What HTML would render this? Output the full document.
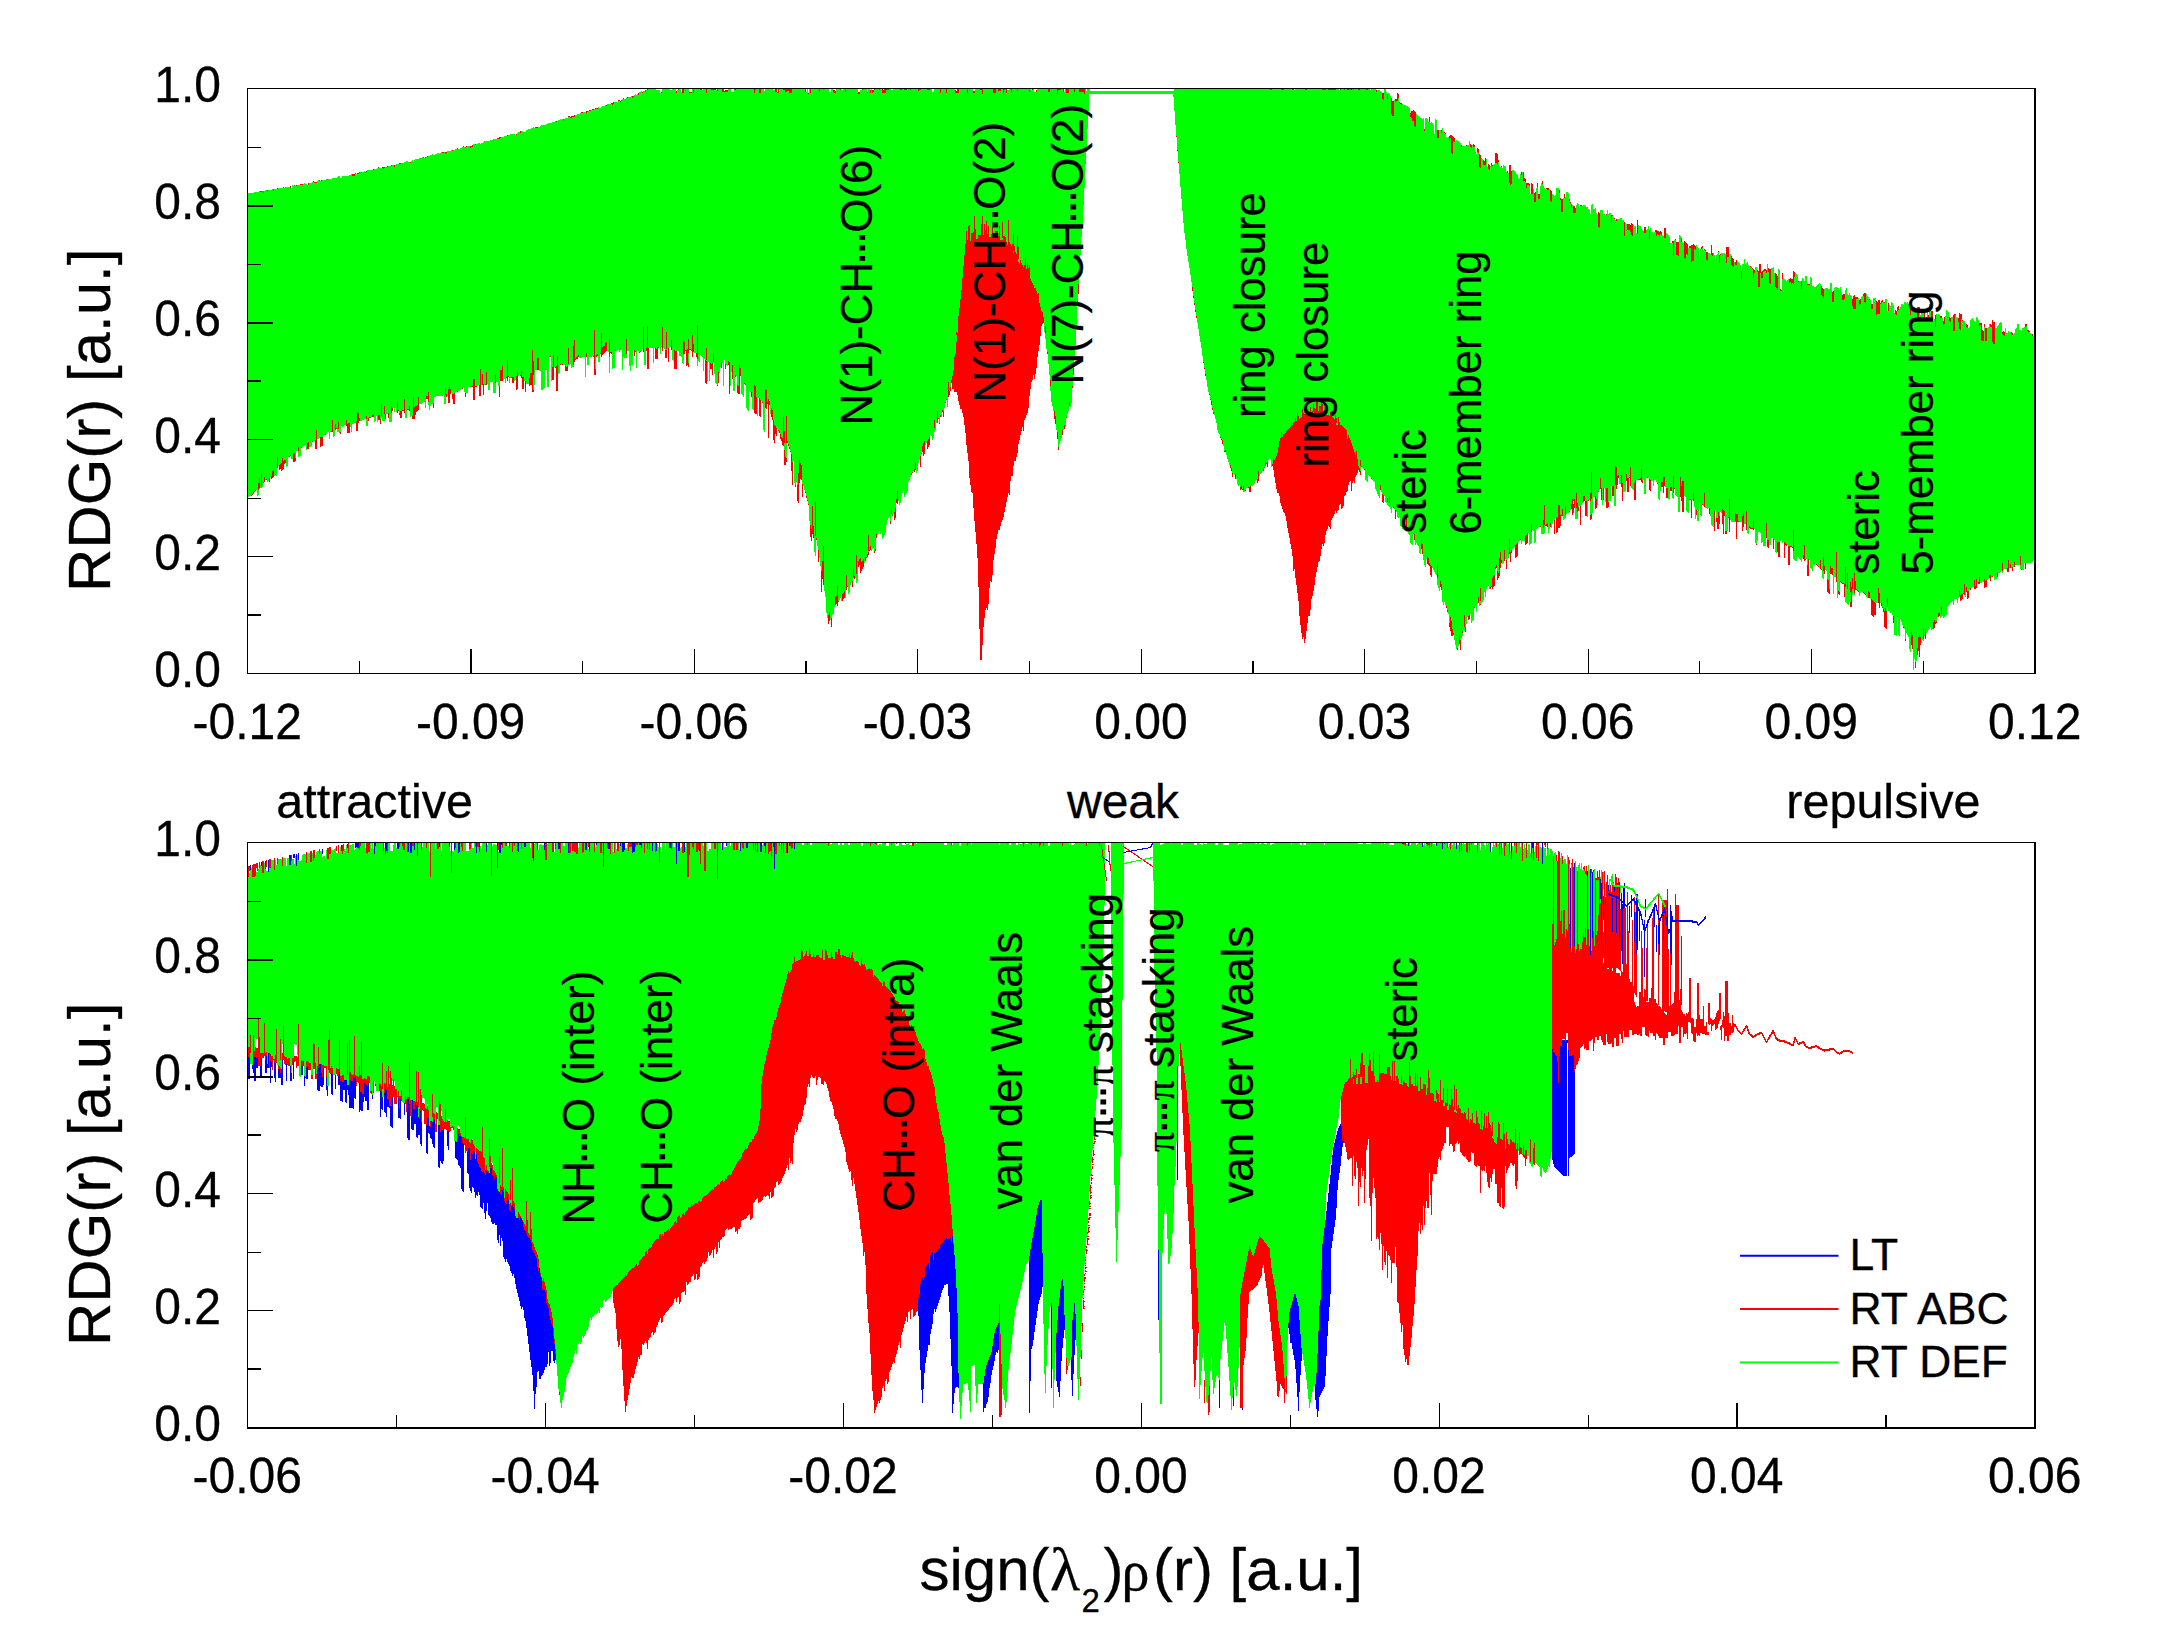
<!DOCTYPE html>
<html lang="en"><head><meta charset="utf-8"><title>RDG vs sign(lambda2)rho</title>
<style>
html,body{margin:0;padding:0;background:#fff}
svg{display:block}
text{font-family:"Liberation Sans", Arial, sans-serif;fill:#000;stroke:#000;stroke-width:.3px}
</style></head><body>
<svg width="2165" height="1650" viewBox="0 0 2165 1650">
<rect width="2165" height="1650" fill="#fff"/>
<g transform="translate(.5 0)" fill="none" stroke-width="1" shape-rendering="crispEdges">
<path stroke="#0000ff" d="M248 1057v22M249 1058v21M250 865v5M252 1065v4M253 1057v16M254 1057v24M255 1057v24M256 1058v10M257 1058v10M260 1066v10M261 862v4M261 1058v19M265 861v8M265 1060v13M266 1056v17M267 1064v4M268 860v12M268 1053v15M270 1061v22M271 1062v5M274 1062v16M275 1063v19M278 1069v9M279 1069v9M280 1073v5M281 1069v16M282 1060v25M286 1064v17M289 855v10M290 855v10M290 1066v15M291 1073v8M293 854v4M293 1061v18M294 854v4M296 854v12M298 853v7M301 1066v9M302 1066v9M304 1076v10M305 1077v1M306 1067v12M307 1067v12M317 1070v20M318 1068v23M319 1064v27M320 1064v22M321 1073v14M322 849v5M322 1077v10M323 1068v17M326 1077v13M327 1086v10M331 1074v20M332 1074v21M335 1075v14M338 1076v9M339 1072v13M340 1081v20M341 845v6M341 1081v20M342 1082v20M343 1082v8M344 1080v10M345 1080v22M346 1080v23M347 844v4M347 1085v5M348 1085v10M349 1080v28M350 1080v28M351 1081v27M352 1081v27M353 1076v33M354 1078v20M355 843v5M355 1077v22M356 843v4M357 843v5M358 843v5M359 1083v29M360 1092v18M361 1092v19M362 1094v17M363 1094v8M364 1083v14M365 1084v17M366 1085v16M367 1086v24M368 1083v27M372 1095v4M374 843v11M375 843v3M380 1091v26M381 1092v17M382 1097v13M384 1093v19M385 843v11M385 1088v25M386 843v8M386 1090v27M387 1099v8M388 1100v7M389 1106v2M390 1106v20M391 1106v21M392 1097v31M397 843v6M398 843v6M398 1098v20M399 1109v9M400 1099v20M404 1103v12M407 1099v39M408 843v9M408 1099v41M409 1104v36M410 843v10M411 843v10M411 1117v12M412 1100v30M413 1109v21M414 843v7M414 1109v15M415 1103v21M416 1106v31M417 843v13M417 1104v34M418 1117v18M419 1119v16M420 1111v33M421 1122v24M426 1125v28M427 1117v37M428 1118v15M429 1126v8M430 1127v11M431 1121v18M432 1122v22M433 1120v27M434 1120v28M438 1125v42M439 843v4M439 1125v43M440 1132v29M441 1130v33M442 1130v34M443 1128v33M447 1131v15M448 1131v19M449 843v4M454 843v7M455 1141v17M456 1142v17M457 1139v21M458 843v10M458 1134v31M459 843v9M459 1136v30M460 1136v32M461 1137v52M462 1143v48M463 1144v48M467 1152v21M468 1148v26M469 1149v39M470 1160v31M471 1153v40M472 1154v33M473 1151v37M474 1152v40M475 1159v39M476 843v10M476 1154v41M477 1162v34M478 1164v28M479 843v9M479 1167v28M480 1168v39M481 1171v37M482 1172v37M483 1172v31M484 1173v40M485 1175v44M486 843v9M486 1171v40M487 1172v31M488 1173v42M489 1173v43M490 1168v50M491 1168v54M492 1175v49M493 1176v48M494 1179v44M495 1175v50M496 1177v48M497 843v25M497 1189v51M498 1191v52M499 843v10M499 1192v43M500 843v10M500 1194v52M501 843v2M501 1195v43M502 1190v51M503 1192v65M504 1201v58M505 1203v59M506 1204v55M507 1197v65M508 1200v64M509 1210v56M510 1211v60M511 1206v67M512 1205v71M513 1207v67M514 1209v69M515 1216v68M516 1218v71M517 1218v75M518 843v9M518 1218v79M519 1220v81M520 1217v89M521 1219v90M522 1221v86M523 1227v83M524 843v4M524 1230v88M525 843v4M525 1231v90M526 1233v95M527 1236v100M528 1238v106M529 1237v115M530 1240v120M531 1243v124M532 1250v125M533 843v18M533 1252v139M534 1253v156M535 1256v138M536 1258v129M537 843v7M537 1267v105M538 1271v100M539 1268v111M540 1276v103M541 1278v98M542 1290v85M543 1286v87M544 843v7M544 1290v80M545 1292v75M546 1303v64M547 1305v59M548 1308v44M549 1316v50M550 1320v43M551 1324v27M552 1326v25M553 1336v25M554 1344v19M555 1354v6M558 843v6M559 843v6M568 843v10M585 843v7M586 843v7M589 843v9M596 843v2M603 843v24M608 843v6M609 843v6M620 843v3M622 843v9M623 843v9M624 843v7M632 843v10M633 843v9M634 843v9M639 843v2M640 843v2M641 843v5M652 843v8M656 843v8M669 843v5M670 843v5M676 843v21M678 843v8M679 843v8M684 843v9M699 843v8M722 843v7M726 843v3M740 843v8M746 843v5M747 843v5M757 843v9M760 843v9M761 843v9M764 843v3M765 843v10M773 843v4M774 843v26M787 843v10M789 843v3M794 843v6M918 1298v18M919 1295v55M920 1284v86M921 1281v109M922 1278v125M923 1280v109M924 1277v96M925 1268v95M926 1266v91M927 1264v87M928 1263v82M929 1269v76M930 1255v79M931 1253v76M932 1252v72M933 1260v54M934 1253v56M935 1253v59M936 1252v57M937 1250v56M938 1249v54M939 1248v52M940 1245v52M941 1244v49M942 1243v47M943 1242v46M944 1240v45M945 1239v46M946 1238v46M947 1239v45M948 1239v57M949 1239v73M950 1238v101M951 1242v124M952 1236v177M953 1245v159M954 1255v138M955 1269v119M956 1288v99M957 1313v74M958 1373v15M983 1383v29M984 1376v32M985 1369v39M986 1365v39M987 1362v40M988 1360v37M989 1357v31M990 1355v28M991 1352v23M992 1346v24M993 1339v27M994 1333v28M995 1329v26M996 1327v25M997 1325v28M998 1323v27M1029 1256v157M1030 1249v132M1031 1243v106M1032 1238v108M1033 1232v108M1034 1227v105M1035 1221v104M1036 1215v103M1037 1208v103M1038 1205v99M1039 1202v98M1040 1200v97M1041 1200v94M1042 1253v34M1051 1303v85M1056 1333v48M1057 1320v67M1058 1306v86M1059 1298v99M1060 1289v92M1061 1281v80M1062 1279v69M1063 1286v52M1064 1315v15M1071 1357v23M1072 1320v76M1073 1312v62M1074 1303v52M1075 1314v26M1101 856v1M1102 857v1M1103 857v2M1104 858v1M1105 859v1M1106 859v2M1107 860v1M1108 861v1M1123 852v1M1124 852v1M1125 852v1M1126 851v1M1127 851v1M1128 851v1M1129 851v1M1130 851v1M1131 850v2M1132 850v1M1133 850v1M1134 850v1M1135 850v1M1136 850v1M1137 849v1M1138 849v1M1139 849v1M1140 849v1M1141 849v1M1142 848v2M1143 848v1M1144 848v1M1145 848v1M1146 848v1M1147 848v1M1148 847v1M1149 847v1M1150 846v2M1151 844v3M1152 843v2M1158 1250v70M1177 1066v114M1219 1380v28M1233 1387v19M1242 1408v2M1288 1323v5M1289 1315v19M1290 1308v35M1291 1305v38M1292 1301v48M1293 1297v58M1294 1294v66M1295 1294v75M1296 1298v85M1297 1302v95M1298 1306v105M1299 1320v72M1300 1334v41M1301 1348v13M1315 1384v16M1316 1373v36M1317 1354v63M1318 1331v80M1319 1306v91M1320 1300v95M1321 1270v123M1322 1244v147M1323 1236v153M1324 1228v159M1325 1220v156M1326 1211v145M1327 1202v134M1328 1193v128M1329 1184v123M1330 1175v119M1331 1165v83M1332 1155v86M1333 1147v87M1334 1143v84M1335 1139v81M1336 1135v73M1337 1131v59M1338 1128v52M1339 1126v47M1340 1124v42M1341 1126v30M1342 1141v6M1343 1137v6M1402 843v1M1403 843v1M1408 843v3M1422 843v4M1426 843v1M1436 843v3M1442 843v6M1456 843v6M1490 843v9M1511 843v16M1532 843v5M1533 843v17M1542 843v21M1552 1049v111M1553 1052v112M1554 1053v114M1555 1055v113M1556 1056v113M1557 1062v108M1558 1083v88M1559 1056v116M1560 1046v127M1561 1046v128M1562 1040v135M1563 1040v136M1564 1040v136M1565 1042v134M1566 1040v136M1567 1040v3M1568 1050v126M1569 1056v102M1570 868v80M1570 1056v101M1571 1056v101M1572 1055v101M1573 1055v100M1574 863v83M1574 1072v82M1587 871v63M1590 869v86M1592 872v66M1600 879v20M1601 883v58M1603 896v24M1605 897v56M1608 885v6M1608 893v2M1609 893v3M1610 894v2M1611 894v2M1612 895v2M1612 898v34M1613 895v2M1614 887v5M1614 895v2M1615 896v2M1616 896v37M1617 883v2M1617 887v2M1617 896v3M1618 897v2M1619 882v3M1619 887v55M1620 899v2M1621 893v58M1622 901v2M1622 904v60M1623 888v21M1624 883v3M1624 888v20M1625 904v2M1626 905v2M1627 904v2M1628 903v2M1629 902v2M1629 906v27M1630 901v2M1631 895v22M1632 899v2M1633 898v3M1634 899v4M1634 912v30M1635 901v4M1636 894v1M1636 898v55M1637 894v2M1637 900v50M1638 907v4M1639 909v32M1640 911v5M1641 914v6M1642 919v6M1643 924v6M1644 920v57M1645 899v9M1645 910v7M1645 927v4M1646 924v4M1647 921v5M1648 919v4M1649 916v4M1650 914v4M1651 912v4M1652 909v4M1653 907v4M1654 904v23M1655 903v4M1656 905v6M1656 925v27M1657 910v5M1658 914v6M1658 925v19M1659 918v37M1660 917v4M1661 914v4M1662 912v4M1663 909v4M1663 915v25M1664 908v5M1665 911v8M1666 917v8M1667 902v29M1668 929v5M1669 929v4M1670 905v48M1671 911v54M1672 916v6M1673 920v2M1674 920v2M1675 920v2M1676 920v2M1677 920v2M1678 920v2M1679 920v2M1680 920v2M1681 920v2M1682 920v2M1683 920v2M1684 920v2M1685 920v2M1686 920v2M1687 920v2M1688 920v2M1689 920v2M1690 920v2M1691 920v2M1692 920v3M1693 921v2M1694 921v2M1695 921v2M1696 921v2M1697 922v3M1698 924v2M1699 923v2M1700 922v2M1701 921v2M1702 920v2M1703 919v2M1704 917v3M1705 916v3"/>
<path stroke="#ff0000" d="M248 866v11M248 1047v10M249 866v5M249 1047v11M250 1035v18M251 495v1M252 494v1M252 865v12M253 492v2M253 864v13M253 1035v22M254 491v1M254 864v13M254 1051v6M255 490v1M255 864v12M255 1047v10M256 863v5M256 1048v10M257 863v8M257 1048v10M258 483v7M258 1018v48M259 478v10M259 862v6M259 1037v29M260 191v1M260 1053v13M261 191v1M261 474v12M261 1053v5M262 861v12M262 1053v5M263 191v2M263 482v1M263 861v12M263 1053v5M264 477v5M264 1023v33M265 1053v7M266 479v1M266 860v7M266 1052v4M267 190v2M269 478v4M269 859v9M269 1053v15M270 859v9M270 1054v7M271 476v3M271 1056v6M272 471v7M272 1056v14M273 189v2M273 470v7M273 1059v1M274 858v12M274 1059v3M275 1055v8M276 1029v34M277 188v1M277 457v11M277 858v6M278 1065v4M279 465v5M279 1066v3M280 464v5M280 1039v21M280 1068v5M281 463v8M282 458v12M282 857v9M282 1053v7M283 187v1M283 461v8M283 1026v34M284 460v4M284 1056v8M285 460v3M285 1057v8M286 1057v7M287 1059v6M288 1058v8M289 456v1M289 1058v8M290 186v2M290 455v1M291 855v6M292 1058v7M293 453v9M293 1058v3M294 185v1M294 453v9M294 1056v6M295 458v3M295 1056v5M296 185v1M296 1056v12M297 1057v9M298 447v4M298 1024v42M300 184v1M301 184v1M301 447v1M301 1060v6M302 184v1M302 1061v5M303 1061v5M306 852v11M306 1061v6M307 443v6M307 1061v6M308 183v2M308 442v7M308 1062v8M309 1063v7M310 851v11M310 1063v7M311 851v11M311 1075v4M312 441v1M312 1075v4M313 181v1M313 850v11M313 1043v26M314 182v1M314 850v8M314 1044v25M315 182v1M315 440v9M315 1063v16M316 182v1M316 430v19M316 1074v5M317 1066v4M318 1047v21M319 180v1M319 849v5M320 437v10M321 180v1M321 437v9M321 1064v9M322 437v9M322 1065v12M323 1065v3M324 1066v2M325 434v1M325 1066v2M326 1066v11M327 179v1M327 848v11M328 848v11M328 1040v30M329 847v7M329 1030v43M330 847v7M330 1068v6M331 431v1M331 1066v8M332 420v12M332 1068v6M335 424v6M336 428v1M336 846v5M336 1068v6M337 1069v7M338 422v7M338 845v8M338 1069v7M339 1040v32M340 432v2M340 1076v5M341 1076v5M342 845v9M342 1075v7M343 844v7M343 1075v7M346 420v6M347 424v9M347 1043v32M348 423v10M348 843v10M349 423v10M349 1040v40M350 1072v8M351 1074v7M352 174v2M352 1075v6M353 174v2M353 1074v2M354 174v2M354 1036v42M355 173v1M355 1075v2M356 421v10M356 1076v10M357 173v1M357 412v19M357 1076v6M358 173v1M358 413v10M358 1077v6M359 172v1M359 418v3M359 843v7M359 1066v17M360 843v3M360 1075v17M361 172v1M361 1042v50M362 1079v15M363 1079v15M364 1078v5M365 172v1M365 1079v5M366 171v1M366 416v3M366 843v10M366 1079v6M367 843v11M367 1076v10M368 418v3M368 843v9M368 1076v7M369 417v1M369 843v9M369 1077v6M370 417v1M370 1091v2M371 1091v3M372 415v2M373 169v1M373 414v3M373 1081v12M375 1084v2M378 167v1M378 415v5M379 415v5M379 1083v8M380 419v5M380 1084v7M381 404v12M381 1086v6M382 167v1M382 1063v26M383 167v2M383 843v8M384 167v1M384 406v8M384 1083v10M385 414v5M385 1084v4M386 1071v19M387 166v1M387 843v10M387 1087v12M388 413v5M388 1066v34M389 1084v22M390 1071v35M391 165v1M391 406v7M391 1078v28M392 408v3M392 1085v12M393 1079v18M394 165v2M394 1086v18M395 1089v15M396 1089v15M397 402v11M397 1096v1M398 410v1M398 1091v7M399 163v1M399 413v2M399 843v4M399 1096v13M400 163v1M400 411v7M400 1096v3M401 411v7M401 1090v11M402 410v1M402 843v3M403 410v1M403 843v7M404 399v14M404 843v7M405 1096v8M406 1099v13M407 409v1M407 843v9M407 1097v2M408 409v1M408 1097v2M409 406v5M409 1062v42M410 162v1M410 1100v16M411 1100v17M412 416v3M412 843v3M413 397v22M413 843v3M413 1101v8M414 407v12M414 1101v8M415 406v9M415 1102v1M416 406v6M416 1071v35M417 405v6M417 1102v2M418 397v13M418 1072v35M419 1109v10M420 1089v22M421 843v7M421 1095v27M422 1103v7M423 157v1M423 1103v8M424 1104v20M425 157v1M425 1108v16M426 396v3M426 843v5M426 1109v16M427 156v1M427 396v3M427 1106v11M428 392v10M428 1110v8M430 843v34M430 1121v6M432 1094v23M433 403v5M433 1113v7M434 1114v6M435 1124v8M436 1112v20M437 843v6M437 1113v6M438 843v6M439 1101v20M440 1104v28M441 1116v14M442 152v1M442 1119v11M443 152v1M443 1121v7M444 1122v7M445 152v2M445 388v7M445 1109v20M446 152v1M446 394v3M446 1122v8M447 1120v11M448 389v14M448 1121v10M449 387v16M449 1121v11M450 389v5M450 1127v4M451 843v30M451 1127v1M452 150v1M452 394v5M452 1126v2M453 394v10M453 1127v3M454 393v11M455 843v5M457 148v1M457 391v1M457 1128v11M458 1129v5M459 1129v7M460 1133v3M461 843v4M461 1136v1M462 388v1M462 843v8M462 1137v6M463 146v1M463 1137v7M464 1138v7M465 147v1M465 393v4M465 1117v36M466 146v1M466 1139v12M467 1139v13M468 1139v9M469 843v6M469 1142v7M470 146v2M470 843v6M470 1143v17M471 146v1M471 386v1M471 1139v14M472 145v2M472 386v1M472 1140v14M473 379v21M473 1144v7M474 379v21M474 1146v6M475 144v1M475 386v1M475 843v4M476 386v1M476 1148v6M477 843v4M477 1149v13M478 843v4M478 1150v14M479 385v11M479 1151v16M480 369v27M480 1151v17M481 1152v19M482 374v11M482 1127v45M483 384v11M483 1157v15M484 1158v15M485 384v1M485 1170v5M486 372v13M486 1165v6M487 1170v2M488 1171v2M489 1139v28M490 1156v12M491 843v33M491 1163v5M492 1165v10M493 1170v6M494 1171v8M495 375v8M495 1173v2M496 1175v2M497 138v1M498 138v1M498 843v7M499 137v2M499 386v11M499 1157v26M500 137v1M500 370v11M500 1185v9M501 370v11M501 1187v8M502 366v15M502 843v5M502 1148v42M503 1187v5M504 1198v3M505 843v3M505 1189v14M506 377v1M506 843v3M506 1191v13M507 135v1M507 360v21M507 1192v5M508 376v1M508 1194v6M509 843v5M509 1204v6M510 1180v20M510 1203v8M511 377v1M511 1205v1M512 377v6M512 843v9M512 1168v37M513 377v6M513 1201v6M514 843v3M514 1203v6M516 134v1M516 376v14M517 372v17M517 843v8M518 1212v6M519 1214v6M520 131v2M520 375v1M520 1216v1M521 371v7M521 843v6M521 1218v1M522 377v12M522 1220v1M523 377v12M523 1222v5M524 1224v6M525 381v11M525 1226v5M526 1201v32M527 1220v16M528 1233v5M529 378v8M529 1235v2M530 373v12M530 1212v28M531 373v12M531 1229v14M532 350v42M532 843v15M532 1242v8M533 361v14M533 390v2M533 1244v8M534 1247v6M535 127v1M535 1250v6M536 127v1M536 1252v6M537 127v1M537 358v12M537 1255v12M538 358v12M538 1259v12M540 1273v3M541 1277v1M542 1281v9M543 1278v8M544 1282v8M545 843v17M545 1286v6M546 843v17M546 1290v13M547 1299v6M548 1303v5M549 1304v12M550 356v1M550 1308v12M551 1312v12M552 367v13M552 843v9M552 1318v8M553 355v25M553 843v9M553 1328v8M554 1339v5M555 367v1M555 843v6M555 1349v5M556 121v1M556 366v25M557 356v35M559 1392v3M560 364v1M560 843v10M562 364v1M563 119v2M565 366v5M566 367v4M567 366v5M568 116v1M568 348v16M569 116v1M569 843v10M570 117v1M570 843v10M571 116v2M572 116v1M572 843v8M573 116v1M573 346v19M573 843v8M574 115v2M574 340v22M574 843v9M575 359v1M575 843v9M576 357v2M576 843v11M577 356v3M577 843v11M578 355v2M581 112v1M582 112v1M582 843v10M583 843v9M586 111v2M586 353v4M587 111v1M588 843v4M589 110v1M590 110v1M592 109v1M593 109v1M593 356v1M594 330v45M594 843v9M595 108v1M595 369v6M596 108v1M596 355v2M597 108v1M597 354v2M600 353v1M600 843v10M601 333v24M601 843v10M602 347v8M603 346v8M604 346v7M605 343v9M606 105v1M606 342v9M607 843v5M609 339v18M610 352v1M610 843v11M611 103v1M611 352v2M612 103v2M613 102v2M613 1288v15M614 843v10M614 1287v21M615 350v1M615 1286v27M616 1285v44M617 843v8M617 1285v56M618 100v1M618 843v8M618 1283v64M619 100v1M619 1282v63M620 101v1M620 1281v58M621 100v1M621 1280v69M622 1279v91M623 98v1M623 1278v108M624 1277v124M625 1275v137M626 339v15M626 1276v130M627 97v1M627 1274v126M628 843v8M628 1272v123M629 843v4M629 1271v118M630 843v4M630 1270v113M631 843v4M631 1269v108M632 96v2M632 1268v110M633 96v1M633 1268v110M634 350v6M634 1267v107M635 351v1M635 843v4M635 1265v104M636 843v2M636 1264v102M637 843v2M637 1266v96M638 93v2M638 1265v92M639 352v1M639 1261v98M640 351v1M640 1260v95M641 1259v96M642 92v1M642 1257v87M643 327v25M643 1256v89M644 843v10M644 1256v87M645 90v2M645 1252v89M646 348v3M646 1251v92M647 89v1M647 326v43M647 843v6M647 1254v95M648 348v21M648 1249v91M649 843v7M649 1247v91M650 1248v89M651 1247v86M652 1244v88M653 1243v92M654 1241v92M655 348v11M655 843v9M655 1240v92M656 349v10M656 1239v88M657 347v12M657 1238v87M658 347v1M658 1239v83M659 843v19M659 1235v85M660 1234v84M661 92v1M661 1236v87M662 327v24M662 1234v88M663 1236v80M664 1232v83M665 350v8M665 1232v81M666 332v17M666 350v8M666 1231v81M667 1230v81M668 348v14M668 1229v81M669 1231v77M670 1228v79M671 340v10M671 843v6M671 1227v79M672 1226v79M673 1225v78M674 350v19M674 1222v77M675 351v18M675 1221v77M676 91v2M676 351v18M676 1223v79M677 1217v81M678 89v1M678 1216v81M679 1215v89M680 1218v84M681 1217v76M682 89v4M682 843v10M682 1214v78M683 89v4M683 340v14M683 843v10M683 1213v79M684 342v12M684 1215v76M685 350v1M685 1212v83M686 350v16M686 1211v71M687 349v16M687 843v34M687 1210v75M688 339v14M688 363v4M688 843v34M688 1207v77M689 92v1M689 349v1M689 843v12M689 1208v74M690 92v1M690 349v1M690 1207v75M691 92v1M691 350v1M691 1204v73M692 335v22M692 843v4M692 1206v70M693 89v4M693 344v8M693 843v6M693 1205v69M694 1204v76M695 1203v76M696 353v4M696 843v9M696 1203v71M697 325v34M697 843v9M697 1204v76M698 843v7M698 1201v78M699 1200v77M700 89v1M700 843v21M700 1202v65M701 89v1M701 1201v65M702 1198v65M703 1197v65M704 843v28M704 1196v68M705 360v23M705 843v28M705 1196v66M706 89v4M706 348v12M706 361v23M706 1195v66M707 1194v64M708 1193v59M709 1192v64M710 363v6M710 1191v64M711 89v1M711 364v5M711 1190v63M712 89v1M712 363v12M712 1189v61M713 89v1M713 354v8M713 1190v68M714 89v1M714 843v6M714 1187v62M715 89v1M715 843v6M715 1187v60M716 1186v68M717 89v2M717 385v1M717 843v36M717 1185v67M718 372v11M718 1184v58M719 1185v63M720 1182v58M721 362v6M721 1181v58M722 89v3M722 1180v57M723 89v3M723 1182v55M724 91v1M724 1181v55M725 90v2M725 364v5M725 1178v52M726 90v2M726 1179v50M727 90v2M727 1176v52M728 361v4M728 1175v55M729 362v32M729 1174v55M730 1175v54M731 1174v55M732 365v14M732 1171v57M733 843v7M733 1170v57M734 89v1M734 843v7M734 1168v59M735 89v1M735 375v2M735 1166v66M736 843v7M736 1164v67M737 385v8M737 843v7M737 1162v72M738 386v8M738 1161v68M739 365v29M739 1159v70M740 368v8M740 1159v68M741 1157v64M742 843v5M742 1153v67M743 843v6M743 1152v68M744 383v1M744 1150v69M745 384v1M745 1147v72M746 1149v69M747 1148v68M748 1145v70M749 1143v71M750 1142v78M751 392v5M751 1142v77M752 1139v79M753 843v7M753 1139v64M754 89v4M754 385v28M754 1136v66M755 89v1M755 386v28M755 843v8M755 1134v66M756 397v17M756 1133v66M757 1131v67M758 1126v77M759 89v4M759 398v18M759 1121v81M760 89v4M760 400v17M760 1109v93M761 1084v117M762 402v1M762 1076v124M763 1070v127M764 1064v132M765 389v19M765 1061v136M766 390v19M766 1055v141M767 402v2M767 1051v144M768 399v39M768 843v11M768 1048v148M769 401v4M769 843v9M769 1044v155M770 843v8M770 1040v152M771 408v9M771 843v16M771 1033v165M772 410v10M772 1027v170M773 420v20M773 1024v172M774 425v18M774 1020v168M775 89v3M775 426v8M775 843v11M775 1020v167M776 89v3M776 428v8M776 843v11M776 1017v165M777 92v1M777 1012v169M778 89v4M778 430v1M778 1008v177M779 431v2M779 843v3M779 1005v179M780 434v5M780 1003v180M781 437v4M781 843v7M781 997v184M782 438v7M782 993v185M783 89v1M783 417v29M783 843v10M783 990v186M784 89v1M784 431v12M784 450v15M784 986v188M785 89v3M785 457v8M785 983v188M786 89v3M786 416v27M786 458v4M786 843v10M786 979v189M787 89v2M787 441v2M787 974v191M788 89v2M788 444v2M788 971v199M789 89v4M789 447v2M789 973v185M790 89v4M790 451v1M790 843v3M790 972v191M791 89v4M791 454v17M791 843v6M791 970v191M792 462v23M792 843v5M792 964v200M793 963v180M794 957v178M795 485v2M795 962v167M796 961v171M797 485v16M797 961v169M798 473v30M798 960v164M799 460v23M799 960v162M800 463v16M800 959v163M801 465v15M801 949v170M802 484v13M802 951v165M803 957v153M804 956v149M805 89v3M805 492v1M805 954v150M806 496v2M806 951v147M807 500v1M807 843v2M807 956v131M808 93v1M808 504v1M808 956v128M809 948v139M810 89v4M810 525v12M810 954v124M811 529v12M811 957v118M812 506v28M812 957v120M813 526v12M813 954v124M814 957v121M815 502v34M815 957v119M816 538v2M816 955v130M817 955v125M818 550v12M818 955v122M819 89v3M819 957v120M820 958v120M821 571v21M821 958v126M822 561v18M822 950v134M823 89v1M823 546v39M823 960v125M824 960v121M825 949v133M826 951v133M827 955v133M828 615v9M828 843v3M828 958v133M829 612v9M829 958v139M830 958v143M831 618v9M831 952v150M832 957v148M833 90v2M833 959v150M834 90v3M834 959v157M835 91v2M835 597v8M835 952v167M836 596v8M836 952v167M837 586v20M837 954v167M838 601v1M838 949v175M839 949v181M840 89v1M840 955v179M841 958v179M842 594v7M842 955v185M843 593v6M843 955v189M844 591v7M844 956v191M845 89v3M845 956v196M846 575v15M846 957v205M847 586v1M847 957v208M848 957v212M849 953v219M850 958v213M851 955v225M852 581v6M852 952v234M853 569v8M853 958v220M854 576v3M854 961v223M855 962v229M856 555v19M856 961v237M857 961v244M858 92v2M858 561v6M858 962v250M859 92v2M859 559v6M859 965v255M860 558v15M860 966v263M861 562v9M861 958v278M862 89v1M862 561v8M862 964v279M863 559v8M863 965v291M864 964v288M865 557v4M865 967v298M866 557v1M866 970v324M867 92v1M867 554v3M867 969v340M868 535v16M868 552v3M868 969v354M869 550v1M869 968v365M870 90v3M870 546v4M870 843v3M870 969v385M871 969v406M872 90v3M872 970v421M873 90v2M873 977v423M874 89v1M874 551v2M874 975v438M875 549v2M875 843v1M875 976v434M876 534v4M876 843v2M876 977v430M877 978v426M878 979v422M879 89v1M879 981v422M880 982v418M881 983v414M882 89v4M882 986v402M883 90v3M883 981v405M884 89v4M884 982v409M885 89v4M885 843v1M885 986v395M886 89v1M886 987v392M887 89v1M887 988v396M888 89v1M888 989v393M889 990v382M890 521v3M890 991v379M891 510v4M891 843v2M891 993v374M892 515v1M892 994v370M893 996v366M894 512v8M894 997v366M895 508v10M895 1000v357M896 499v4M896 843v1M896 1001v353M897 491v13M897 1001v349M898 1002v343M899 1006v336M900 89v1M900 1007v341M901 89v1M901 1005v330M902 1012v320M903 1011v317M904 89v1M904 1010v314M905 89v1M905 843v1M905 1014v307M906 89v1M906 1016v301M907 1018v304M908 1019v293M909 1025v286M910 89v1M910 1027v292M911 474v1M911 1025v285M912 472v1M912 843v3M912 1027v282M913 843v3M913 1029v288M914 469v3M914 1030v286M915 462v8M915 1032v283M916 1036v276M917 1038v273M918 89v2M918 1041v257M919 89v1M919 1043v252M920 89v1M920 456v11M920 1044v240M921 453v1M921 1046v235M922 446v6M922 1049v229M923 443v13M923 1048v232M924 441v13M924 1050v227M925 1059v209M926 1062v204M927 89v1M927 441v8M927 1066v198M928 89v1M928 439v8M928 1066v197M929 89v1M929 437v8M929 1070v199M930 1072v183M931 1075v178M932 1079v173M933 1084v176M934 420v8M934 1087v166M935 1096v157M936 1103v149M937 411v12M937 1109v141M938 418v1M938 1112v137M939 423v1M939 1119v129M940 89v4M940 415v2M940 1125v120M941 1131v113M942 410v2M942 1135v108M943 411v6M943 1137v105M944 1143v97M945 402v1M945 1153v86M946 89v4M946 399v1M946 1163v75M947 1173v66M948 382v15M948 1183v56M949 391v4M949 1195v44M950 387v4M950 1204v34M951 380v3M951 843v3M951 1215v27M952 376v13M952 1229v7M953 371v18M953 1243v2M954 357v35M955 90v3M955 354v38M956 91v2M956 332v3M956 342v50M957 89v4M957 333v62M958 89v4M958 316v85M959 308v97M960 299v110M961 290v119M962 278v135M963 266v151M964 255v170M965 244v189M966 231v214M967 89v4M967 240v213M967 843v3M968 226v235M969 225v253M970 241v244M971 233v259M972 233v260M973 91v2M973 232v276M974 91v2M974 216v305M975 229v303M976 239v305M977 239v319M978 235v352M979 235v394M980 89v1M980 235v425M981 89v1M981 224v436M982 89v5M982 216v429M983 235v392M984 224v394M985 230v380M986 221v387M987 234v376M988 226v378M989 237v351M990 237v344M991 234v348M992 227v348M993 89v4M993 234v326M994 89v4M994 235v319M995 89v4M995 231v317M996 231v308M997 231v303M998 89v2M998 236v294M999 89v2M999 226v304M999 1304v113M1000 89v2M1000 240v286M1000 1334v83M1001 240v282M1001 1364v51M1002 222v16M1002 240v280M1003 89v4M1003 236v281M1004 89v1M1004 236v276M1005 237v270M1006 89v4M1006 242v260M1007 245v252M1007 843v1M1008 220v273M1009 242v253M1010 244v237M1011 89v3M1011 246v230M1012 244v232M1013 234v17M1013 253v213M1014 246v215M1015 252v209M1016 254v203M1017 89v2M1017 236v217M1018 247v12M1018 262v182M1019 264v176M1020 260v175M1021 263v168M1022 265v162M1023 267v164M1023 843v4M1024 265v155M1025 258v160M1026 269v146M1027 263v150M1028 268v140M1029 89v3M1029 265v131M1030 279v110M1031 281v101M1031 843v2M1032 89v1M1032 283v97M1033 285v90M1034 288v91M1035 288v86M1036 90v2M1036 291v77M1037 294v63M1038 293v58M1039 303v42M1039 843v4M1040 307v29M1040 843v2M1041 311v15M1042 312v12M1043 317v6M1043 843v3M1045 326v7M1047 352v2M1048 89v3M1049 89v3M1050 380v6M1054 411v8M1055 416v8M1057 89v5M1057 432v7M1058 89v1M1058 447v3M1059 89v1M1060 89v1M1062 430v5M1062 843v3M1063 89v3M1064 425v4M1066 89v4M1066 417v1M1066 1358v16M1067 89v4M1067 1366v4M1068 89v4M1069 402v4M1072 386v2M1073 368v7M1074 89v3M1074 356v2M1077 301v5M1078 284v10M1079 89v3M1080 89v3M1080 1377v9M1081 89v3M1081 1350v9M1082 89v3M1082 1323v9M1083 89v3M1083 1290v3M1083 1294v1M1083 1298v1M1083 1300v9M1084 89v5M1084 1274v2M1084 1277v5M1084 1283v1M1084 1286v2M1084 1289v1M1084 1301v1M1084 1306v1M1084 1308v1M1085 1257v1M1085 1259v2M1085 1263v1M1085 1265v1M1085 1267v2M1085 1270v2M1085 1273v1M1085 1277v2M1086 843v3M1086 1246v2M1086 1249v5M1086 1267v1M1086 1271v1M1087 1232v2M1087 1236v1M1087 1238v7M1087 1250v1M1088 1218v2M1088 1221v2M1088 1225v1M1088 1227v6M1088 1236v1M1088 1238v2M1088 1244v1M1089 1201v4M1089 1206v1M1089 1208v1M1089 1213v3M1089 1217v3M1089 1225v1M1089 1227v1M1089 1231v1M1090 1185v9M1090 1195v4M1090 1203v1M1090 1206v1M1090 1208v1M1090 1213v3M1090 1217v1M1091 1169v1M1091 1174v2M1091 1177v4M1091 1182v2M1091 1187v1M1091 1192v1M1091 1195v1M1091 1197v1M1092 1157v6M1092 1164v1M1092 1166v3M1092 1175v1M1092 1178v1M1093 1143v1M1093 1145v1M1093 1147v1M1093 1150v6M1093 1159v1M1093 1164v1M1094 1135v1M1094 1137v3M1094 1141v3M1094 1154v1M1095 1139v1M1095 1141v1M1099 843v3M1101 845v4M1102 849v7M1103 856v1M1103 859v4M1104 863v7M1105 870v7M1106 877v4M1108 845v7M1109 851v14M1110 864v7M1123 846v1M1124 847v1M1125 847v2M1126 848v1M1127 849v1M1128 849v2M1129 850v1M1131 852v1M1132 852v1M1133 853v1M1134 853v2M1135 854v1M1136 855v1M1137 855v2M1138 856v2M1139 857v1M1140 858v1M1141 858v1M1143 860v1M1144 860v2M1145 861v1M1146 862v1M1147 862v2M1148 863v1M1149 864v1M1150 864v2M1151 865v1M1152 866v1M1176 136v1M1177 150v1M1178 162v1M1180 1043v23M1181 1050v40M1182 1058v55M1183 1066v69M1184 1073v79M1185 1081v89M1186 1090v97M1187 1102v102M1188 1113v108M1189 1124v120M1190 1141v128M1191 1163v131M1192 287v4M1192 1184v145M1193 296v2M1193 1206v158M1194 303v2M1194 1228v159M1195 310v2M1195 1249v131M1196 316v2M1196 1268v92M1197 1288v58M1198 1322v11M1203 362v1M1204 368v1M1204 1380v23M1205 374v2M1208 1395v20M1209 394v1M1209 1386v26M1210 399v1M1211 401v4M1212 408v2M1213 412v2M1220 437v1M1221 439v1M1222 440v4M1224 451v1M1225 450v2M1230 465v3M1231 468v3M1232 473v4M1235 474v5M1240 487v3M1240 1294v114M1241 485v4M1241 1288v120M1242 489v1M1242 1282v126M1243 486v4M1243 1277v88M1244 1272v86M1245 490v1M1245 1267v84M1246 1262v76M1247 1256v62M1248 487v1M1248 1251v53M1249 487v5M1249 1246v46M1250 486v6M1250 1249v42M1251 1252v38M1252 1255v35M1253 1256v33M1254 1253v35M1255 1249v38M1256 1246v40M1257 479v4M1257 1242v43M1258 471v10M1258 1239v43M1259 1236v44M1260 1237v41M1261 1238v38M1262 1239v29M1263 469v2M1263 1240v25M1264 467v1M1264 1242v31M1265 462v4M1265 1243v38M1266 463v1M1266 1244v44M1267 462v5M1267 1246v50M1268 1247v57M1269 1248v64M1270 89v1M1270 1258v64M1271 89v1M1271 1268v63M1272 464v2M1272 1274v67M1273 458v12M1273 1279v72M1274 460v17M1274 1285v76M1275 458v25M1275 1291v80M1276 456v33M1276 1299v82M1277 453v40M1277 1310v86M1278 447v46M1278 1321v76M1279 441v55M1279 1328v63M1280 438v65M1280 1335v49M1281 89v1M1281 432v74M1281 1342v44M1282 89v1M1282 437v72M1282 1351v37M1283 89v1M1283 434v78M1283 1364v25M1284 434v79M1284 1378v25M1285 433v83M1285 1389v3M1286 431v90M1286 1376v18M1287 430v98M1288 429v104M1289 428v110M1289 1312v3M1290 427v117M1291 422v127M1292 89v1M1292 425v131M1293 89v1M1293 423v148M1294 422v147M1295 418v160M1296 421v164M1297 413v180M1298 416v185M1299 419v197M1300 418v207M1301 417v216M1302 409v230M1303 413v224M1304 414v229M1305 89v1M1305 413v226M1306 89v1M1306 409v222M1307 412v211M1308 416v200M1309 416v200M1310 407v203M1311 412v187M1312 411v185M1313 404v8M1313 416v175M1314 408v177M1315 409v168M1316 400v172M1317 402v165M1318 411v151M1319 406v155M1320 406v150M1321 402v147M1322 89v1M1322 404v9M1322 414v130M1323 89v1M1323 414v132M1324 89v1M1324 413v130M1325 89v1M1325 414v121M1326 415v116M1327 415v114M1328 89v1M1328 415v111M1329 89v1M1329 416v111M1330 89v1M1330 412v117M1331 89v1M1331 416v104M1332 89v1M1332 417v101M1333 89v1M1333 418v98M1334 89v1M1334 419v95M1335 89v1M1335 415v96M1336 418v5M1336 425v88M1337 425v86M1338 417v93M1339 422v83M1340 89v1M1340 425v79M1341 425v84M1341 1096v30M1342 426v82M1342 1092v49M1343 427v79M1343 1088v49M1344 89v1M1344 428v68M1344 1084v59M1345 429v66M1345 1082v65M1346 430v62M1346 1082v70M1347 89v1M1347 439v52M1347 1081v78M1348 89v1M1348 435v50M1348 1079v81M1349 438v44M1349 1078v81M1350 89v1M1350 440v41M1350 1059v99M1351 89v1M1351 443v48M1351 1078v80M1352 446v37M1352 1077v109M1353 89v1M1353 449v32M1353 1072v7M1353 1084v72M1354 452v31M1354 1075v101M1355 455v22M1355 1075v104M1356 451v24M1356 1069v9M1356 1084v78M1357 459v14M1357 1084v84M1358 89v1M1358 466v4M1358 1074v132M1359 89v1M1359 468v4M1359 1074v108M1360 460v6M1360 471v4M1360 1063v14M1360 1084v103M1361 466v1M1361 1053v24M1361 1084v84M1362 1053v123M1363 1065v106M1364 469v1M1364 1065v138M1365 1083v96M1366 89v1M1366 1083v67M1367 89v1M1367 1083v62M1368 1066v73M1369 1054v144M1370 1060v146M1371 478v1M1371 1071v170M1372 1071v122M1373 1052v126M1374 1076v112M1375 1082v116M1376 90v2M1376 1082v157M1377 1080v157M1378 1082v157M1379 1054v196M1380 485v5M1380 1073v160M1381 1073v171M1382 93v6M1382 494v8M1382 1073v197M1383 93v7M1383 495v8M1383 1073v173M1384 1074v188M1385 1074v191M1386 1074v177M1387 94v5M1387 498v4M1387 1067v211M1388 1067v188M1389 496v7M1389 1067v189M1390 1076v184M1391 98v16M1391 1080v203M1392 101v15M1392 1061v202M1393 101v15M1393 507v1M1393 1081v182M1394 1061v202M1395 99v3M1395 510v9M1395 1081v166M1396 99v2M1396 1076v191M1397 93v8M1397 1076v226M1398 94v4M1398 1079v224M1399 102v1M1399 1084v229M1400 103v1M1400 1084v239M1401 103v2M1401 1076v7M1401 1084v248M1402 1085v240M1403 522v2M1403 1080v269M1404 524v4M1404 843v2M1404 1082v273M1405 526v4M1405 843v3M1405 1083v279M1406 517v12M1406 1083v276M1407 527v3M1407 1086v279M1408 1087v278M1409 1062v294M1410 113v4M1410 1076v271M1411 111v7M1411 1084v254M1412 111v10M1412 1084v242M1413 110v11M1413 533v1M1413 1086v230M1414 111v15M1414 534v6M1414 1086v218M1415 112v15M1415 1073v214M1416 1086v184M1417 1074v182M1418 1091v140M1419 843v1M1419 1091v132M1420 1077v157M1421 543v6M1421 1089v136M1422 544v10M1422 1089v141M1423 1084v122M1424 129v2M1424 1084v141M1425 1085v123M1426 1095v106M1427 556v8M1427 843v3M1427 1088v120M1428 558v7M1428 843v2M1428 1070v138M1429 117v5M1429 563v3M1429 843v5M1429 1078v95M1430 565v10M1430 1093v102M1431 566v11M1431 843v4M1431 1093v122M1432 1093v88M1433 1094v80M1434 1101v73M1435 1101v73M1436 1090v9M1436 1102v72M1437 130v8M1437 566v12M1437 1093v74M1438 130v8M1438 1094v65M1439 1102v55M1440 581v6M1440 1080v80M1441 130v3M1441 584v6M1441 1100v51M1442 1100v49M1443 1088v15M1443 1106v40M1444 132v1M1444 843v1M1444 1106v37M1445 133v1M1445 1102v41M1446 606v2M1446 1103v24M1447 610v2M1447 843v5M1447 1089v17M1447 1110v17M1448 1110v17M1449 136v5M1449 623v4M1449 1104v42M1450 135v3M1450 617v14M1450 843v6M1450 1105v39M1451 135v18M1451 621v15M1451 1089v55M1452 136v18M1452 629v7M1452 1099v47M1453 137v4M1453 633v2M1453 1107v45M1454 138v4M1454 1085v25M1454 1112v39M1455 1112v32M1456 1089v22M1456 1113v30M1457 648v2M1457 1109v32M1458 1105v39M1459 635v9M1459 843v9M1459 1108v35M1460 640v10M1460 1109v43M1461 145v2M1461 843v8M1461 1113v40M1462 631v2M1462 1113v42M1463 1114v42M1464 615v12M1464 1112v45M1465 627v5M1465 1113v43M1466 145v1M1466 843v9M1466 1119v40M1467 843v10M1467 1120v40M1468 616v4M1468 1108v54M1469 615v4M1469 843v8M1469 1123v39M1470 144v3M1470 1119v42M1471 145v3M1471 843v2M1471 1120v32M1472 1113v40M1473 144v3M1473 1123v30M1474 145v2M1474 607v1M1474 1123v42M1475 152v1M1475 1124v42M1476 1111v56M1477 148v4M1477 843v10M1477 1117v48M1478 149v4M1478 597v6M1478 1123v43M1479 154v13M1479 1124v42M1480 155v13M1480 588v13M1480 604v1M1480 1129v64M1481 1111v17M1481 1129v41M1482 1130v41M1483 160v5M1483 1126v44M1484 161v4M1484 1113v58M1485 158v7M1485 1128v38M1486 1116v57M1487 1128v54M1488 164v5M1488 1112v75M1489 165v5M1489 1123v65M1490 587v2M1490 1125v53M1491 163v3M1491 586v1M1491 1131v51M1492 165v1M1492 578v11M1492 1122v14M1492 1138v36M1493 576v11M1493 1139v30M1494 575v11M1494 1142v27M1495 153v10M1495 567v2M1495 1143v41M1496 153v10M1496 565v3M1496 843v4M1496 1144v40M1497 154v10M1497 571v9M1497 1137v66M1498 160v2M1498 573v5M1498 1122v81M1499 558v12M1499 571v5M1499 843v12M1499 1124v82M1500 552v16M1500 1139v68M1501 166v1M1501 560v3M1501 843v11M1501 1139v49M1502 1140v68M1503 1123v86M1504 550v11M1504 843v13M1504 1134v73M1505 843v3M1505 1149v17M1506 560v9M1506 1132v41M1507 171v2M1507 1139v31M1508 1144v24M1509 165v18M1509 539v15M1509 843v12M1509 1145v21M1510 165v20M1510 552v10M1510 1139v24M1511 171v13M1511 550v3M1511 1140v23M1512 1142v23M1513 1142v24M1514 843v3M1514 1143v21M1515 545v13M1515 1129v57M1516 544v13M1516 843v10M1516 1149v40M1517 543v13M1517 1143v38M1519 1132v23M1520 539v1M1520 1147v7M1521 172v3M1521 1148v6M1522 843v18M1522 1154v1M1523 172v9M1523 1145v12M1524 178v3M1524 1155v3M1525 179v3M1525 536v9M1525 1150v16M1526 183v5M1526 535v9M1526 843v15M1526 1150v9M1527 183v2M1527 533v10M1528 183v2M1529 184v2M1530 1139v23M1531 183v11M1531 524v8M1531 843v15M1532 184v10M1533 1148v16M1534 193v9M1534 1143v22M1535 192v10M1536 843v15M1537 183v4M1537 843v2M1538 194v5M1538 843v18M1539 194v5M1540 526v1M1542 181v3M1543 520v8M1544 505v20M1544 843v2M1545 525v1M1545 843v4M1546 188v1M1546 524v2M1547 188v2M1547 523v4M1547 843v6M1548 188v2M1550 190v11M1550 523v4M1551 191v11M1552 924v125M1553 856v196M1554 520v14M1554 945v108M1555 942v113M1556 517v16M1556 855v6M1556 939v117M1557 518v14M1557 861v201M1558 505v23M1558 851v232M1559 190v3M1559 505v23M1559 852v204M1560 198v2M1560 515v11M1560 921v125M1561 199v13M1561 515v1M1561 911v135M1562 199v13M1562 509v7M1562 856v8M1562 934v105M1563 910v129M1564 194v4M1564 910v129M1565 506v9M1565 938v104M1566 929v104M1567 931v102M1568 857v193M1569 199v2M1569 511v1M1569 860v4M1569 924v132M1570 202v1M1570 948v108M1571 204v4M1571 504v5M1571 863v1M1571 952v104M1572 499v16M1572 859v196M1573 206v7M1573 500v1M1573 504v9M1573 867v188M1574 206v7M1574 499v9M1574 946v126M1575 208v5M1575 953v116M1576 493v15M1576 949v116M1577 503v9M1577 871v193M1578 507v4M1578 944v117M1579 951v107M1580 205v1M1580 506v19M1580 949v99M1581 205v1M1581 949v98M1582 942v104M1583 496v6M1583 867v2M1583 933v111M1584 496v5M1584 866v5M1584 937v112M1585 501v15M1585 871v3M1585 928v120M1586 501v15M1586 866v9M1586 945v105M1587 934v116M1588 500v1M1588 929v121M1589 946v95M1590 493v8M1590 515v5M1590 955v86M1591 472v27M1591 514v5M1591 869v4M1591 951v89M1592 938v101M1593 870v2M1593 931v120M1594 946v97M1595 496v13M1595 878v159M1596 499v9M1596 878v2M1596 935v102M1597 871v10M1597 931v109M1598 212v15M1598 491v1M1598 877v3M1598 915v125M1599 213v15M1599 870v166M1600 478v11M1600 903v133M1601 488v12M1601 941v99M1602 872v170M1603 488v12M1603 932v26M1603 963v82M1604 871v174M1605 953v92M1606 214v1M1606 488v20M1606 882v152M1607 488v20M1607 875v93M1607 969v73M1608 502v5M1608 891v2M1608 895v73M1608 969v75M1609 890v3M1609 896v148M1610 885v9M1610 896v148M1611 215v7M1611 892v2M1611 896v147M1612 215v1M1612 486v10M1612 885v10M1612 897v1M1612 932v36M1612 971v76M1613 486v10M1613 882v1M1613 886v9M1613 897v150M1614 218v1M1614 892v3M1614 897v141M1615 466v19M1615 874v11M1615 887v9M1615 898v140M1616 219v2M1616 467v22M1616 877v8M1616 887v9M1616 933v35M1616 973v73M1617 476v9M1617 889v7M1617 899v69M1617 973v73M1618 475v3M1618 878v7M1618 887v10M1618 899v70M1618 973v73M1619 942v28M1619 973v61M1620 909v62M1620 976v58M1621 475v12M1621 971v68M1622 483v18M1622 972v71M1623 909v122M1624 222v14M1624 908v129M1625 908v129M1626 474v7M1626 964v73M1627 224v6M1627 478v14M1627 892v12M1627 906v131M1628 224v6M1628 478v14M1628 931v106M1629 224v6M1629 477v1M1629 979v51M1630 225v7M1630 467v19M1630 982v48M1631 223v12M1631 982v48M1632 224v12M1632 920v115M1633 986v49M1634 483v17M1634 897v2M1634 903v9M1634 942v51M1634 1002v32M1635 480v20M1635 912v83M1635 1005v29M1636 953v44M1636 1007v27M1637 220v14M1637 1006v29M1638 479v1M1638 1006v29M1639 479v1M1639 992v42M1640 478v2M1640 992v44M1641 469v13M1641 931v105M1642 480v3M1642 948v79M1643 997v30M1644 227v6M1644 989v38M1645 227v6M1645 990v45M1646 948v53M1646 1002v34M1647 477v1M1647 920v1M1647 926v75M1647 1002v34M1648 1002v35M1649 230v9M1649 479v11M1649 998v33M1650 480v11M1650 998v35M1651 988v45M1652 918v115M1653 911v125M1654 999v37M1655 230v2M1655 999v41M1656 230v6M1656 1003v30M1657 231v3M1657 483v1M1657 1004v30M1658 231v4M1658 895v19M1658 920v5M1658 944v61M1658 1006v30M1659 232v4M1659 1006v32M1660 231v3M1660 1007v31M1661 232v3M1661 482v5M1661 1009v29M1662 482v5M1662 903v9M1662 916v122M1663 477v16M1663 900v1M1663 905v4M1663 913v2M1663 940v105M1664 228v10M1664 477v9M1664 900v3M1664 907v1M1664 913v98M1664 1013v32M1665 228v10M1665 900v5M1665 907v4M1665 919v93M1665 1014v24M1666 488v10M1666 900v17M1666 925v87M1666 1015v23M1667 488v10M1667 889v13M1667 931v107M1668 949v83M1669 1006v26M1670 487v4M1670 953v79M1671 487v4M1671 1005v31M1672 241v2M1672 1004v32M1673 241v15M1673 476v17M1673 1003v33M1674 488v1M1674 992v43M1675 239v1M1675 894v26M1675 922v112M1676 242v13M1676 905v15M1676 922v112M1677 242v13M1677 905v15M1677 922v112M1678 242v14M1678 905v15M1678 922v104M1679 1000v43M1680 477v20M1680 989v54M1681 238v4M1681 486v15M1681 936v69M1681 1010v17M1682 481v31M1682 1012v15M1683 481v31M1683 1014v23M1684 241v17M1684 1014v20M1685 242v17M1685 1016v18M1686 243v11M1686 1013v20M1687 244v11M1687 1014v25M1688 1012v10M1689 246v2M1689 499v1M1689 978v44M1690 246v2M1690 499v1M1690 978v45M1691 245v17M1691 500v18M1691 1018v15M1692 245v16M1692 1018v16M1693 244v17M1693 493v8M1693 1019v22M1694 245v4M1694 1027v15M1695 246v4M1695 1027v15M1696 510v5M1696 1019v14M1697 983v53M1698 983v52M1699 1015v21M1700 1019v14M1701 247v2M1701 1019v14M1702 246v2M1702 504v1M1702 1019v15M1703 1006v28M1704 249v1M1704 493v14M1704 1026v8M1705 250v1M1705 1026v9M1706 252v8M1706 1022v13M1707 252v9M1707 1032v3M1708 1003v21M1708 1032v3M1709 508v6M1709 1003v22M1710 1018v6M1711 245v10M1711 1019v12M1712 253v3M1712 1020v6M1713 1020v5M1714 511v20M1714 1019v5M1715 1017v13M1716 518v4M1716 1013v16M1717 518v11M1717 1011v17M1718 251v1M1718 512v17M1718 1010v14M1719 255v8M1719 516v8M1719 993v28M1720 254v1M1720 993v26M1720 1026v4M1721 1025v15M1722 509v15M1722 1020v7M1723 510v24M1723 1012v16M1724 511v5M1724 1016v25M1725 531v3M1725 981v55M1726 247v16M1726 531v3M1726 981v55M1727 247v10M1727 981v60M1728 247v10M1728 517v1M1728 1013v28M1729 499v33M1729 1023v12M1730 1023v12M1731 256v9M1731 1026v7M1732 258v8M1732 1015v18M1733 259v8M1733 1023v9M1734 1024v3M1735 262v3M1735 513v8M1735 1024v3M1736 260v5M1736 514v25M1736 1026v3M1737 514v8M1737 1028v3M1738 521v1M1738 1030v2M1739 1031v2M1740 1032v2M1741 271v8M1741 1033v2M1742 516v15M1742 1031v3M1743 513v14M1743 1029v3M1744 1028v3M1745 1026v3M1746 511v19M1746 1025v3M1747 1026v5M1748 1029v5M1749 526v2M1749 1032v3M1750 266v1M1750 527v2M1750 1034v2M1751 267v1M1751 528v1M1751 1034v3M1752 268v1M1752 528v1M1752 1035v3M1753 269v9M1753 521v9M1753 1036v2M1754 270v3M1754 1035v2M1755 1034v3M1756 544v1M1756 1034v2M1757 270v2M1757 1033v2M1758 271v16M1758 1033v2M1759 264v23M1759 1032v3M1760 264v9M1760 1032v2M1761 272v6M1761 1032v2M1762 271v7M1762 1033v3M1763 270v2M1763 1035v3M1764 269v2M1764 1037v3M1765 269v2M1765 1039v3M1766 270v3M1766 523v15M1766 1041v2M1767 540v7M1767 1039v3M1768 268v4M1768 540v8M1768 1037v3M1769 269v14M1769 1035v4M1770 269v15M1770 1034v3M1771 1032v3M1772 1030v4M1773 539v10M1773 1030v4M1774 1032v4M1775 273v14M1775 1035v4M1776 274v14M1776 1037v3M1777 276v14M1777 542v10M1777 1038v3M1778 542v15M1778 1039v2M1779 542v15M1779 1039v3M1780 289v2M1780 1040v2M1781 290v1M1781 1040v2M1782 273v6M1782 1040v2M1783 1040v2M1784 542v16M1784 1040v3M1785 543v2M1785 1041v2M1786 544v2M1786 1041v2M1787 1042v2M1788 546v19M1788 1042v2M1789 279v4M1789 546v19M1789 1042v3M1790 278v4M1790 546v1M1790 1043v2M1791 279v5M1791 546v1M1791 1044v2M1792 279v4M1792 547v1M1792 1044v2M1793 271v13M1793 530v21M1793 1041v5M1794 272v5M1794 1037v6M1795 1037v3M1796 1039v3M1797 1041v3M1798 281v1M1798 1043v2M1799 1042v3M1800 1042v2M1801 281v8M1801 1042v2M1802 1041v2M1803 555v4M1803 1041v3M1804 545v16M1804 1042v4M1805 559v1M1805 1044v3M1806 1046v2M1807 284v1M1807 565v11M1807 1046v2M1808 284v1M1808 559v17M1808 1047v2M1809 284v1M1809 1047v2M1810 1047v2M1811 1046v3M1812 1046v2M1813 1046v2M1814 1046v2M1815 1045v2M1816 564v1M1816 1045v2M1817 565v1M1817 1046v2M1818 566v1M1818 1046v3M1819 1047v2M1820 560v9M1820 1048v2M1821 286v9M1821 569v1M1821 1048v2M1822 288v8M1822 1049v2M1823 289v9M1823 557v14M1823 1049v2M1824 566v8M1824 1049v3M1825 1049v2M1826 1049v2M1827 579v13M1827 1049v2M1828 580v13M1828 1049v2M1829 589v5M1829 1048v3M1830 566v8M1830 1048v2M1831 568v6M1831 1048v2M1832 292v10M1832 568v7M1832 1048v2M1833 291v11M1833 1048v2M1834 1049v2M1835 1050v2M1836 552v30M1836 1051v2M1837 1052v2M1838 591v3M1838 1052v2M1839 592v3M1839 1053v2M1840 581v1M1840 1052v2M1841 582v1M1841 1051v3M1842 295v5M1842 583v1M1842 1051v2M1843 294v6M1843 583v1M1843 1050v2M1844 294v5M1844 584v13M1844 1050v2M1845 567v20M1845 1050v2M1846 1050v2M1847 573v16M1847 1050v2M1848 1050v2M1849 1050v2M1850 582v10M1850 602v5M1850 1051v2M1851 587v20M1851 1051v2M1852 299v7M1852 578v11M1852 1052v2M1853 296v13M1854 295v14M1854 573v20M1855 297v12M1855 581v9M1856 297v2M1856 589v1M1857 297v2M1857 590v1M1858 591v1M1859 300v5M1860 299v5M1863 294v2M1863 592v1M1864 293v9M1864 593v1M1865 293v10M1865 594v1M1868 591v7M1869 299v1M1869 592v6M1871 304v5M1871 599v16M1872 304v5M1872 600v16M1873 601v16M1874 602v13M1875 603v12M1876 301v14M1877 302v12M1878 300v14M1878 588v15M1879 300v14M1879 593v15M1880 303v1M1881 301v2M1881 603v3M1882 300v2M1882 607v1M1883 609v3M1884 302v1M1884 611v16M1885 608v20M1886 611v18M1887 598v9M1888 303v8M1893 616v7M1895 310v4M1896 311v4M1897 307v4M1897 616v1M1898 306v4M1903 627v1M1905 639v2M1910 305v10M1911 306v1M1911 632v13M1912 635v14M1915 662v6M1917 307v14M1917 648v7M1918 307v14M1918 637v14M1919 307v6M1919 635v22M1920 637v8M1923 629v10M1924 313v6M1925 629v10M1928 315v2M1931 311v10M1932 311v10M1933 622v7M1934 620v8M1935 315v12M1935 622v2M1936 621v2M1938 613v4M1939 612v4M1940 316v2M1941 316v2M1941 607v7M1943 321v4M1944 317v7M1949 317v4M1950 318v4M1953 315v16M1954 314v17M1955 314v1M1958 318v4M1959 313v16M1959 590v6M1960 314v16M1960 595v6M1961 314v5M1961 594v6M1962 320v1M1962 594v5M1963 321v1M1963 593v1M1964 584v11M1966 324v3M1966 587v5M1967 325v3M1967 591v8M1968 591v7M1970 588v2M1974 580v9M1975 586v3M1976 579v9M1978 582v2M1979 323v3M1979 577v7M1980 323v2M1981 323v17M1982 330v11M1983 331v10M1984 324v3M1984 579v9M1985 328v13M1985 581v6M1986 328v13M1986 580v7M1989 575v3M1990 324v3M1990 575v6M1991 325v2M1992 320v22M1992 576v1M1993 322v22M1994 322v22M1997 573v4M2002 332v2M2002 563v8M2003 331v4M2004 332v4M2007 568v4M2008 560v12M2010 564v4M2011 332v2M2012 333v2M2012 567v4M2014 562v5M2020 556v9M2021 569v1M2025 324v3M2025 563v6M2026 324v2M2027 330v1M2028 330v2M2029 331v1M2032 334v2M2035 328v8"/>
<path stroke="#00ff00" d="M248 193v304M248 877v170M249 193v303M249 873v174M250 193v303M250 870v165M250 1053v11M251 193v302M251 868v196M252 193v301M252 877v188M253 193v299M253 877v158M254 192v299M254 877v174M255 192v298M255 876v162M256 192v298M256 872v167M257 192v304M257 872v167M258 192v291M258 490v5M258 869v149M259 191v287M259 488v1M259 868v169M260 192v296M260 865v188M261 192v282M261 486v2M261 866v187M262 191v296M262 873v180M263 193v289M263 873v180M264 191v286M264 863v160M265 190v290M265 869v184M266 190v289M266 871v181M267 192v290M267 871v193M268 190v291M268 872v181M269 190v288M269 868v185M270 190v287M270 868v186M271 190v286M271 860v196M272 189v282M272 860v196M273 191v279M273 860v199M274 189v287M274 870v189M275 189v286M275 860v195M276 189v287M276 865v164M277 189v268M277 864v201M278 188v278M278 859v206M279 188v277M279 859v207M280 188v276M280 859v180M280 1060v8M281 188v275M281 859v210M282 188v270M282 866v178M283 188v273M283 858v168M284 188v272M284 858v198M285 187v273M285 858v199M286 187v280M286 866v191M287 187v279M287 858v201M288 187v270M288 858v200M289 187v269M289 865v193M290 188v267M290 865v201M291 188v271M291 861v212M292 185v274M292 859v199M293 186v267M293 859v199M294 186v267M294 864v180M295 186v272M295 856v189M296 186v265M296 866v179M297 185v266M297 855v200M298 185v262M298 451v6M298 860v164M299 185v271M299 861v215M300 185v271M300 861v216M301 185v262M301 860v200M302 185v262M302 855v206M303 184v262M303 854v207M304 183v263M304 854v222M305 184v261M305 854v223M306 184v266M306 863v198M307 185v258M307 853v208M308 185v257M308 853v209M309 183v264M309 853v210M310 183v264M310 862v201M311 183v263M311 862v213M312 182v259M312 853v222M313 182v259M313 861v182M314 183v258M314 858v186M315 183v257M315 855v208M316 183v247M316 852v222M317 181v258M317 851v215M318 180v259M318 851v196M319 181v257M319 854v210M320 181v256M320 851v213M321 181v256M321 851v213M322 180v257M322 857v208M323 180v255M323 856v209M324 180v255M324 856v210M325 180v254M325 858v208M326 179v255M326 850v216M327 180v252M327 859v227M328 179v253M328 859v181M328 1070v16M329 179v260M329 854v176M330 179v253M330 854v214M331 180v251M331 850v216M332 178v242M332 850v218M333 178v259M333 850v225M334 178v258M334 849v226M335 178v246M335 848v227M336 178v250M336 853v215M337 177v255M337 853v216M338 176v246M338 429v3M338 853v216M339 176v257M339 852v188M340 178v254M340 847v229M341 178v248M341 851v225M342 176v251M342 854v221M343 176v250M343 851v224M344 176v249M344 849v231M345 176v249M345 851v229M346 176v244M346 845v235M347 176v248M347 848v195M347 1075v10M348 176v247M348 853v232M349 175v248M349 845v195M350 175v252M350 845v227M351 174v258M351 845v229M352 176v248M352 844v231M353 176v248M353 844v230M354 176v247M354 850v186M355 174v249M355 849v226M356 174v247M356 847v229M357 174v238M357 848v228M358 174v239M358 848v229M359 173v245M359 850v216M360 172v249M360 846v229M361 173v248M361 843v199M362 172v248M362 843v236M363 172v248M363 843v236M364 171v248M364 843v235M365 173v246M365 848v231M366 172v244M366 419v7M366 853v226M367 170v256M367 854v222M368 170v248M368 852v224M369 170v247M369 852v225M370 170v247M370 843v248M371 170v247M371 848v243M372 170v245M372 843v252M373 170v244M373 849v232M374 169v253M374 854v227M375 169v252M375 846v238M376 169v247M376 843v248M377 168v254M377 843v248M378 168v247M378 843v248M379 168v247M379 843v240M380 168v251M380 843v241M381 168v236M381 416v2M381 843v243M382 168v253M382 843v220M382 1089v8M383 169v252M383 851v246M384 168v238M384 414v7M384 848v235M385 167v247M385 854v230M386 167v247M386 851v220M387 167v247M387 853v234M388 166v247M388 843v223M389 166v256M389 843v235M390 166v256M390 851v220M391 166v240M391 413v9M391 851v227M392 165v243M392 851v230M393 165v243M393 845v234M394 167v245M394 843v238M395 165v243M395 843v246M396 164v248M396 848v241M397 164v238M397 849v247M398 164v246M398 849v242M399 164v249M399 847v249M400 164v247M400 843v253M401 163v248M401 843v240M402 163v247M402 846v256M403 163v247M403 850v253M404 162v237M404 850v253M405 162v256M405 843v253M406 161v257M406 843v256M407 161v248M407 852v245M408 162v247M408 852v245M409 162v244M409 843v219M410 163v254M410 853v247M411 161v255M411 853v247M412 160v256M412 846v254M413 162v235M413 846v255M414 160v247M414 850v251M415 159v247M415 843v259M416 159v247M416 843v228M417 159v246M417 856v246M418 159v238M418 843v229M418 1107v10M419 158v246M419 843v266M420 158v246M420 843v246M421 158v246M421 850v245M422 157v246M422 847v251M423 158v244M423 843v255M424 158v244M424 843v256M425 158v250M425 843v265M426 157v239M426 848v261M427 157v239M427 843v261M428 156v236M428 402v3M428 843v267M429 156v254M429 851v275M430 155v251M430 877v244M431 155v249M431 843v278M432 154v250M432 843v251M432 1117v5M433 155v248M433 843v270M434 155v242M434 843v271M435 154v243M435 849v275M436 154v242M436 843v264M437 153v243M437 849v258M438 153v243M438 849v276M439 154v242M439 847v254M439 1121v4M440 153v243M440 843v261M441 152v244M441 851v260M442 153v243M442 843v276M443 153v242M443 843v278M444 152v252M444 843v279M445 154v234M445 395v9M445 843v266M446 153v241M446 843v279M447 151v245M447 843v275M448 151v238M448 843v276M449 151v236M449 847v272M450 151v238M450 851v276M451 150v243M451 873v254M452 151v243M452 851v275M453 150v244M453 852v275M454 150v243M454 850v291M455 149v243M455 848v293M456 149v243M456 843v299M457 149v242M457 843v283M458 149v242M458 853v273M459 149v242M459 852v275M460 148v242M460 843v290M461 148v241M461 847v289M462 147v241M462 851v286M463 147v241M463 843v294M464 147v245M464 843v295M465 148v245M465 843v274M466 147v246M466 851v288M467 146v247M467 851v288M468 146v241M468 851v288M469 146v241M469 849v293M470 148v239M470 849v294M471 147v239M471 843v295M472 147v239M472 848v291M473 144v235M473 848v296M474 144v235M474 843v303M475 145v241M475 847v312M476 144v242M476 853v295M477 144v242M477 847v302M478 143v242M478 847v303M479 143v242M479 852v299M480 144v225M480 846v305M481 143v242M481 849v303M482 143v231M482 843v284M483 142v242M483 843v314M484 141v244M484 843v315M485 141v243M485 843v327M486 141v231M486 852v313M487 141v243M487 845v325M488 141v249M488 843v328M489 141v249M489 843v296M489 1167v6M490 140v242M490 843v313M491 140v242M491 876v286M492 140v242M492 846v317M493 139v254M493 844v326M494 139v254M494 844v327M495 139v236M495 383v10M495 845v328M496 139v243M496 845v330M497 139v243M497 868v321M498 139v247M498 852v339M499 139v247M499 853v304M499 1183v9M500 138v232M500 853v332M501 137v233M501 845v342M502 137v229M502 848v300M503 137v243M503 843v344M504 136v243M504 843v355M505 136v247M505 846v343M506 136v241M506 846v345M507 136v224M507 846v346M508 135v241M508 846v348M509 135v248M509 848v356M510 134v244M510 843v337M510 1200v3M511 134v243M511 843v362M512 134v243M512 852v316M513 134v243M513 843v358M514 134v247M514 846v357M515 135v245M515 843v373M516 135v241M516 843v375M517 133v239M517 851v367M518 132v244M518 852v360M519 132v243M519 843v371M520 133v242M520 843v373M521 131v240M521 849v369M522 131v246M522 843v377M523 132v245M523 843v379M524 132v249M524 847v377M525 132v249M525 847v379M526 130v254M526 843v358M527 130v254M527 843v377M528 129v255M528 843v390M529 129v249M529 843v392M530 129v244M530 848v364M531 128v245M531 843v386M532 128v222M532 858v384M533 127v234M533 375v15M533 861v383M534 128v257M534 844v403M535 128v242M535 843v407M536 128v242M536 843v409M537 128v230M537 850v405M538 127v231M538 850v409M539 127v244M539 845v423M540 126v245M540 844v429M541 125v265M541 845v432M542 125v265M542 845v436M543 125v264M543 845v433M544 125v263M544 850v432M545 125v245M545 860v426M546 124v246M546 860v430M547 124v263M547 844v455M548 123v264M548 843v460M549 123v234M549 843v461M550 123v233M550 843v465M551 123v258M551 843v469M552 122v245M552 852v466M553 122v233M553 852v476M554 122v245M554 852v487M555 121v246M555 849v500M556 122v244M556 843v521M557 121v235M557 843v533M558 120v254M558 849v540M559 120v253M559 849v543M560 119v245M560 853v550M561 120v245M561 843v565M562 119v245M562 843v557M563 121v244M563 846v551M564 119v246M564 846v546M565 118v248M565 843v543M566 118v249M566 843v535M567 118v248M567 843v532M568 117v231M568 364v1M568 853v520M569 117v248M569 853v517M570 118v246M570 853v514M571 118v250M571 843v522M572 117v250M572 851v512M573 117v229M573 365v2M573 851v506M574 117v223M574 852v502M575 115v244M575 852v499M576 115v242M576 854v500M577 114v242M577 854v491M578 114v241M578 848v496M579 114v244M579 843v499M580 113v245M580 843v501M581 113v245M581 843v499M582 113v244M582 853v483M583 112v245M583 852v486M584 112v245M584 843v493M585 112v265M585 850v484M586 113v240M586 850v481M587 112v253M587 843v487M588 111v254M588 849v478M589 111v246M589 852v469M590 111v246M590 843v475M591 110v247M591 843v477M592 110v246M592 843v474M593 110v246M593 843v473M594 109v221M594 852v463M595 109v260M595 847v467M596 109v246M596 845v469M597 109v245M597 843v470M598 107v255M598 843v468M599 108v254M599 843v470M600 108v245M600 853v454M601 107v226M601 853v455M602 106v241M602 843v464M603 106v240M603 867v434M604 106v240M604 843v457M605 105v238M605 843v459M606 106v236M606 843v458M607 104v247M607 848v452M608 104v248M608 849v450M609 104v235M609 357v16M609 849v449M610 104v248M610 854v443M611 104v248M611 843v451M612 105v264M612 843v448M613 104v264M613 852v436M614 102v266M614 853v434M615 102v248M615 843v443M616 102v249M616 849v436M617 102v248M617 851v434M618 101v249M618 851v432M619 101v251M619 844v438M620 102v248M620 846v435M621 101v249M621 843v437M622 99v271M622 852v427M623 99v258M623 852v426M624 99v259M624 850v427M625 99v259M625 848v427M626 98v241M626 354v4M626 848v428M627 98v253M627 844v430M628 97v254M628 851v421M629 97v269M629 847v424M630 97v274M630 847v423M631 96v269M631 847v422M632 98v267M632 853v415M633 97v253M633 852v416M634 95v255M634 852v415M635 94v257M635 847v418M636 95v273M636 845v419M637 94v257M637 845v421M638 95v256M638 843v422M639 92v260M639 845v416M640 92v259M640 845v415M641 91v260M641 848v411M642 93v256M642 843v414M643 91v236M643 843v413M644 91v274M644 853v403M645 92v273M645 843v409M646 90v258M646 843v408M647 90v236M647 849v405M648 89v259M648 843v406M649 89v259M649 850v397M650 89v259M650 843v405M651 89v259M651 843v404M652 89v259M652 851v393M653 89v274M653 843v400M654 89v259M654 843v398M655 89v259M655 852v388M656 90v259M656 851v388M657 90v257M657 844v394M658 90v257M658 847v392M659 90v257M659 862v373M660 93v261M660 847v387M661 93v254M661 852v384M662 89v238M662 843v391M663 89v259M663 843v393M664 89v260M664 843v389M665 89v261M665 849v383M666 89v243M666 349v1M666 843v388M667 89v261M667 843v387M668 89v259M668 843v386M669 89v259M669 848v383M670 90v257M670 848v380M671 90v250M671 849v378M672 89v271M672 843v383M673 89v272M673 847v378M674 89v261M674 847v375M675 89v262M675 843v378M676 93v258M676 864v359M677 90v261M677 843v374M678 90v261M678 851v365M679 89v267M679 851v364M680 89v267M680 848v370M681 92v265M681 847v370M682 93v270M682 853v361M683 93v247M683 354v10M683 853v360M684 89v253M684 852v363M685 89v261M685 847v365M686 89v261M686 843v368M687 89v260M687 877v333M688 89v250M688 353v10M688 877v330M689 93v256M689 855v353M690 93v256M690 843v364M691 93v257M691 843v361M692 89v246M692 847v359M693 93v251M693 849v356M694 89v264M694 843v361M695 89v264M695 843v360M696 89v264M696 852v351M697 89v236M697 359v7M697 852v352M698 89v272M698 850v351M699 89v273M699 851v349M700 90v265M700 864v338M701 90v266M701 843v358M702 90v267M702 843v355M703 89v282M703 846v351M704 89v270M704 871v325M705 89v271M705 871v325M706 93v255M706 360v1M706 843v352M707 89v292M707 851v343M708 89v273M708 851v342M709 89v292M709 849v343M710 89v274M710 849v342M711 90v274M711 843v347M712 90v273M712 843v346M713 90v264M713 843v347M714 90v284M714 849v338M715 90v293M715 849v338M716 90v294M716 843v343M717 91v294M717 879v306M718 89v283M718 843v341M719 89v284M719 843v342M720 89v278M720 843v339M721 89v273M721 849v332M722 92v271M722 850v330M723 92v294M723 843v339M724 92v268M724 847v334M725 92v272M725 847v331M726 92v273M726 847v332M727 92v274M727 843v333M728 89v272M728 843v332M729 89v273M729 843v331M730 89v297M730 846v329M731 92v280M731 843v331M732 92v273M732 843v328M733 92v299M733 850v320M734 90v301M734 850v318M735 90v285M735 843v323M736 89v287M736 850v314M737 89v296M737 850v312M738 89v297M738 843v318M739 89v276M739 850v309M740 89v279M740 851v308M741 89v305M741 843v314M742 89v306M742 848v305M743 89v308M743 849v303M744 89v294M744 843v307M745 89v295M745 843v304M746 89v319M746 848v301M747 89v321M747 848v300M748 89v322M748 843v302M749 89v302M749 843v300M750 89v303M750 843v299M751 89v303M751 843v299M752 89v320M752 843v296M753 89v321M753 850v289M754 93v292M754 843v293M755 90v296M755 851v283M756 89v308M756 843v290M757 89v327M757 852v279M758 89v309M758 843v283M759 93v305M759 843v278M760 93v307M760 852v257M761 89v312M761 852v232M762 89v313M762 845v231M763 89v341M763 843v227M764 91v341M764 846v218M765 89v300M765 853v208M766 89v301M766 843v212M767 89v313M767 843v208M768 89v310M768 854v194M769 89v312M769 852v192M770 89v325M770 851v189M771 89v319M771 859v174M772 89v321M772 843v184M773 90v330M773 847v177M774 90v335M774 869v151M775 92v334M775 854v166M776 92v336M776 854v163M777 93v336M777 843v169M778 93v337M778 843v165M779 89v342M779 846v159M780 89v345M780 844v159M781 89v348M781 850v147M782 89v349M782 843v150M783 90v327M783 853v137M784 90v341M784 443v7M784 843v143M785 92v365M785 843v140M786 92v324M786 443v15M786 853v126M787 91v350M787 853v121M788 91v353M788 843v128M789 93v354M789 846v127M790 93v358M790 846v126M791 93v361M791 849v121M792 89v373M792 848v116M793 89v372M793 843v120M794 89v394M794 849v108M795 89v396M795 843v119M796 89v393M796 843v118M797 89v396M797 843v118M798 89v384M798 843v117M799 89v371M799 843v117M800 89v374M800 843v116M801 89v376M801 843v106M802 89v395M802 845v106M803 89v397M803 845v112M804 89v401M804 843v113M805 92v400M805 843v111M806 92v404M806 843v108M807 89v411M807 845v111M808 94v410M808 843v113M809 89v432M809 843v105M810 93v432M810 845v109M811 89v440M811 845v112M812 89v417M812 843v114M813 89v437M813 843v111M814 89v463M814 843v114M815 89v413M815 536v20M815 843v114M816 89v449M816 843v112M817 89v457M817 843v112M818 89v461M818 843v112M819 92v466M819 843v114M820 89v477M820 843v115M821 89v482M821 843v115M822 89v472M822 843v107M823 90v456M823 843v117M824 89v502M824 843v117M825 89v508M825 843v106M826 89v524M826 843v108M827 89v529M827 843v112M828 89v526M828 846v112M829 92v520M829 843v115M830 92v528M830 844v114M831 89v529M831 844v108M832 89v526M832 843v114M833 92v522M833 843v116M834 93v514M834 843v116M835 93v504M835 843v109M836 89v507M836 843v109M837 89v497M837 843v111M838 89v512M838 845v104M839 89v511M839 845v104M840 90v508M840 843v112M841 90v511M841 843v115M842 90v504M842 845v110M843 89v504M843 845v110M844 89v502M844 843v113M845 92v506M845 843v113M846 89v486M846 843v114M847 89v497M847 843v114M848 89v505M848 845v112M849 89v503M849 845v108M850 89v496M850 843v115M851 89v494M851 843v112M852 89v492M852 843v109M853 89v480M853 577v1M853 843v115M854 89v487M854 843v118M855 89v489M855 843v119M856 89v466M856 574v9M856 843v118M857 89v492M857 843v118M858 94v467M858 843v119M859 94v465M859 843v122M860 90v468M860 843v123M861 90v472M861 846v112M862 90v471M862 846v118M863 89v470M863 843v122M864 89v474M864 843v121M865 89v468M865 843v124M866 89v468M866 843v127M867 93v461M867 843v126M868 89v446M868 551v1M868 843v126M869 89v461M869 843v125M870 93v453M870 846v123M871 89v462M871 843v126M872 93v456M872 843v127M873 92v456M873 843v134M874 90v461M874 843v132M875 89v460M875 844v132M876 89v445M876 845v132M877 89v446M877 845v133M878 89v445M878 845v134M879 90v441M879 844v137M880 89v445M880 844v138M881 89v444M881 846v137M882 93v446M882 843v143M883 93v444M883 843v138M884 93v442M884 843v139M885 93v440M885 844v142M886 90v435M886 846v141M887 90v430M887 846v142M888 90v428M888 846v143M889 89v428M889 843v147M890 89v432M890 843v148M891 90v420M891 845v148M892 90v425M892 843v151M893 89v425M893 843v153M894 89v423M894 843v154M895 89v419M895 846v154M896 89v410M896 846v155M897 89v402M897 846v155M898 89v412M898 846v156M899 89v416M899 843v163M900 90v413M900 843v164M901 90v406M901 843v162M902 89v404M902 845v167M903 89v402M903 845v166M904 90v407M904 845v165M905 90v405M905 845v169M906 90v403M906 844v172M907 89v402M907 844v174M908 89v393M908 843v176M909 89v391M909 845v180M910 90v387M910 845v182M911 89v385M911 845v180M912 89v383M912 846v181M913 89v382M913 846v183M914 89v380M914 843v187M915 89v373M915 843v189M916 89v384M916 844v192M917 89v382M917 843v195M918 91v372M918 843v198M919 90v370M919 843v200M920 90v366M920 843v201M921 89v364M921 843v203M922 89v357M922 843v206M923 89v354M923 843v205M924 89v352M924 843v207M925 89v356M925 843v216M926 89v354M926 843v219M927 90v351M927 843v223M928 90v349M928 843v223M929 90v347M929 843v227M930 89v346M930 843v229M931 89v347M931 843v232M932 92v348M932 843v236M933 92v346M933 843v241M934 89v331M934 428v4M934 843v244M935 89v341M935 843v253M936 89v334M936 843v260M937 89v322M937 843v266M938 89v329M938 843v269M939 89v334M939 843v276M940 93v322M940 843v282M941 89v328M941 843v288M942 89v321M942 843v292M943 89v322M943 843v294M944 89v319M944 845v298M945 89v313M945 845v308M946 93v306M946 845v318M947 89v318M947 843v330M948 89v293M948 843v340M949 89v302M949 843v352M950 89v298M950 843v361M951 89v291M951 846v369M952 89v287M952 845v384M953 89v282M953 843v400M954 89v268M954 843v412M955 93v261M955 843v426M956 93v239M956 335v7M956 843v445M957 93v240M957 843v470M958 93v223M958 843v530M959 89v219M959 846v556M960 89v210M960 846v573M961 89v201M961 843v563M962 89v189M962 843v550M963 89v177M963 843v541M964 89v166M964 843v541M965 89v155M965 843v541M966 89v142M966 843v540M967 93v147M967 846v537M968 89v137M968 843v547M969 89v136M969 843v558M970 89v152M970 843v569M971 89v144M971 845v521M972 89v144M972 843v523M973 93v139M973 843v522M974 93v123M974 843v522M975 89v140M975 843v543M976 89v150M976 843v560M977 89v150M977 843v551M978 89v146M978 843v541M979 89v146M979 843v541M980 90v145M980 843v541M981 90v134M981 843v541M982 94v122M982 843v541M983 89v146M983 843v540M984 89v135M984 843v533M985 89v141M985 843v526M986 89v132M986 843v522M987 89v145M987 843v519M988 89v137M988 843v517M989 89v148M989 843v514M990 89v148M990 843v512M991 89v145M991 843v509M992 89v138M992 843v503M993 93v141M993 843v496M994 93v142M994 843v490M995 93v138M995 843v486M996 89v142M996 843v484M997 89v142M997 843v482M998 91v145M998 843v480M999 91v135M999 845v459M1000 91v149M1000 843v491M1001 89v151M1001 843v521M1002 89v133M1002 238v2M1002 843v546M1003 93v143M1003 843v552M1004 90v146M1004 843v557M1005 89v148M1005 843v565M1006 93v149M1006 843v559M1007 90v155M1007 844v538M1008 90v130M1008 843v527M1009 89v153M1009 845v516M1010 89v155M1010 845v508M1011 92v154M1011 843v501M1012 89v155M1012 843v492M1013 89v145M1013 251v2M1013 843v483M1014 89v157M1014 843v474M1015 89v163M1015 843v467M1016 89v165M1016 845v461M1017 91v145M1017 845v457M1018 89v158M1018 259v3M1018 843v455M1019 89v175M1019 844v450M1020 89v171M1020 844v446M1021 89v174M1021 844v442M1022 89v176M1022 843v439M1023 89v178M1023 847v430M1024 89v176M1024 843v429M1025 89v169M1025 844v423M1026 89v180M1026 844v420M1027 89v174M1027 844v419M1028 89v179M1028 843v418M1029 92v173M1029 843v413M1030 89v190M1030 843v406M1031 90v191M1031 845v398M1032 90v193M1032 843v395M1033 89v196M1033 843v389M1034 92v196M1034 843v384M1035 92v196M1035 843v378M1036 92v199M1036 843v372M1037 89v205M1037 843v365M1038 89v204M1038 843v362M1039 89v214M1039 847v355M1040 89v218M1040 845v355M1041 89v222M1041 843v357M1042 89v223M1042 843v410M1043 89v228M1043 846v478M1044 89v243M1044 843v531M1045 89v237M1045 333v6M1045 843v550M1046 89v260M1046 843v523M1047 89v263M1047 843v502M1048 92v272M1048 846v483M1049 92v283M1049 846v466M1050 89v291M1050 386v5M1050 843v464M1051 89v313M1051 843v460M1052 89v317M1052 843v526M1053 89v322M1053 843v565M1054 89v322M1054 843v537M1055 89v327M1055 843v510M1056 89v341M1056 843v490M1057 94v338M1057 843v477M1058 90v357M1058 843v463M1059 90v354M1059 843v455M1060 90v351M1060 843v446M1061 89v349M1061 843v438M1062 89v341M1062 846v433M1063 92v338M1063 843v443M1064 92v333M1064 843v472M1065 89v338M1065 843v496M1066 93v324M1066 843v515M1067 93v321M1067 843v523M1068 93v318M1068 843v523M1069 89v313M1069 845v518M1070 89v318M1070 843v517M1071 89v314M1071 845v512M1072 89v297M1072 845v475M1073 89v279M1073 845v467M1074 92v264M1074 844v459M1075 89v258M1075 843v471M1076 89v240M1076 843v503M1077 89v212M1077 843v536M1078 89v195M1078 843v557M1079 92v184M1079 843v536M1080 92v163M1080 843v514M1081 92v145M1081 843v483M1082 92v132M1082 843v455M1083 92v114M1083 843v438M1084 94v94M1084 843v422M1085 89v76M1085 843v408M1086 91v61M1086 846v392M1087 89v40M1087 844v381M1088 89v22M1088 843v366M1089 89v5M1089 843v349M1090 91v3M1090 843v333M1091 91v3M1091 843v319M1092 91v3M1092 843v307M1093 91v3M1093 843v293M1094 91v3M1094 843v281M1095 91v3M1095 843v268M1096 91v3M1096 843v256M1097 91v3M1097 843v240M1098 91v3M1098 843v222M1099 91v3M1099 846v202M1100 91v3M1100 843v187M1101 91v3M1101 843v2M1101 849v7M1101 857v146M1102 91v3M1102 843v6M1102 856v1M1102 858v118M1103 91v3M1103 843v13M1103 863v82M1104 91v3M1104 843v15M1104 859v4M1104 870v35M1105 91v3M1106 91v3M1107 91v3M1108 91v3M1109 91v3M1110 91v3M1111 91v3M1111 843v121M1112 91v3M1112 843v222M1113 91v3M1113 843v300M1114 91v3M1114 843v342M1115 91v3M1115 843v385M1116 91v3M1116 843v419M1117 91v3M1117 843v397M1118 91v3M1118 843v369M1119 91v3M1119 843v342M1120 91v3M1120 843v314M1121 91v3M1121 843v287M1122 91v3M1122 843v157M1123 91v3M1123 843v3M1123 847v5M1123 853v42M1124 91v3M1124 863v1M1125 91v3M1125 863v1M1126 91v3M1126 862v2M1127 91v3M1127 862v1M1128 91v3M1128 862v1M1129 91v3M1129 862v1M1130 91v3M1130 862v1M1131 91v3M1131 861v2M1132 91v3M1132 861v1M1133 91v3M1133 861v1M1134 91v3M1134 861v1M1135 91v3M1135 861v1M1136 91v3M1136 860v1M1137 91v3M1137 860v1M1138 91v3M1138 860v1M1139 91v3M1139 860v1M1140 91v3M1140 860v1M1141 91v3M1141 859v1M1142 91v3M1142 859v1M1143 91v3M1143 859v1M1144 91v3M1144 859v1M1145 91v3M1145 858v2M1146 91v3M1146 858v1M1147 91v3M1147 858v1M1148 91v3M1148 858v1M1149 91v3M1149 858v1M1150 91v3M1150 857v2M1151 91v3M1151 857v1M1152 91v3M1152 857v1M1153 91v3M1153 843v38M1154 91v3M1154 843v130M1155 91v3M1155 843v169M1156 91v3M1156 843v207M1157 91v3M1157 843v343M1158 91v3M1158 843v407M1159 91v3M1159 843v510M1160 91v3M1160 845v559M1161 91v3M1161 845v559M1162 91v3M1162 844v409M1163 91v3M1163 844v386M1164 91v3M1164 843v371M1165 91v3M1165 843v362M1166 91v3M1166 843v371M1167 91v3M1167 843v396M1168 91v3M1168 843v421M1169 91v3M1169 843v420M1170 91v3M1170 843v413M1171 91v3M1171 844v404M1172 91v3M1172 843v391M1173 91v6M1173 843v371M1174 89v22M1174 843v343M1175 89v36M1175 843v324M1176 89v47M1176 843v299M1177 89v61M1177 843v223M1178 89v73M1178 843v223M1179 89v85M1179 843v211M1180 89v98M1180 843v200M1181 89v110M1181 845v205M1182 89v122M1182 845v213M1183 89v134M1183 843v223M1184 89v144M1184 843v230M1185 89v151M1185 843v238M1186 89v160M1186 843v247M1187 89v167M1187 843v259M1188 89v173M1188 843v270M1189 89v179M1189 843v281M1190 89v186M1190 843v298M1191 89v193M1191 843v320M1192 89v198M1192 843v341M1193 89v207M1193 843v363M1194 89v214M1194 845v383M1195 89v221M1195 845v404M1196 89v227M1196 845v423M1197 89v234M1197 843v445M1198 89v240M1198 843v479M1199 89v247M1199 844v555M1200 89v253M1200 844v541M1201 89v259M1201 845v526M1202 89v267M1202 845v513M1203 89v273M1203 843v510M1204 89v279M1204 844v527M1205 89v285M1205 844v543M1206 89v291M1206 844v558M1207 89v298M1207 843v560M1208 89v303M1208 843v552M1209 89v305M1209 843v543M1210 89v310M1210 843v528M1211 89v312M1211 843v514M1212 89v319M1212 843v537M1213 89v323M1213 843v551M1214 89v326M1214 843v545M1215 89v330M1215 845v537M1216 89v334M1216 845v531M1217 89v341M1217 845v530M1218 89v344M1218 843v535M1219 89v345M1219 843v537M1220 89v348M1220 843v516M1221 89v350M1221 843v507M1222 89v351M1222 843v498M1223 89v357M1223 845v487M1224 89v362M1224 845v478M1225 89v361M1225 845v481M1226 89v366M1226 845v494M1227 89v370M1227 845v508M1228 89v373M1228 845v522M1229 89v376M1229 843v538M1230 89v376M1230 843v553M1231 89v379M1231 843v567M1232 89v384M1232 843v555M1233 89v385M1233 843v544M1234 89v386M1234 843v540M1235 89v385M1235 843v547M1236 89v390M1236 843v553M1237 89v395M1237 843v544M1238 89v397M1238 845v523M1239 89v396M1239 844v504M1240 89v398M1240 844v450M1241 89v396M1241 844v444M1242 89v400M1242 843v439M1243 89v397M1243 490v2M1243 843v434M1244 89v403M1244 843v429M1245 89v401M1245 843v424M1246 89v399M1246 843v419M1247 89v399M1247 843v413M1248 89v398M1248 843v408M1249 89v398M1249 843v403M1250 89v397M1250 843v406M1251 89v397M1251 843v409M1252 89v397M1252 843v412M1253 89v396M1253 843v413M1254 89v395M1254 843v410M1255 89v392M1255 844v405M1256 89v391M1256 844v402M1257 89v390M1257 843v399M1258 89v382M1258 843v396M1259 89v387M1259 844v392M1260 89v385M1260 844v393M1261 89v384M1261 843v395M1262 89v382M1262 843v396M1263 89v380M1263 843v397M1264 89v378M1264 844v398M1265 89v373M1265 844v399M1266 89v374M1266 844v400M1267 89v373M1267 843v403M1268 89v371M1268 843v404M1269 89v369M1269 843v405M1270 90v369M1270 845v413M1271 90v377M1271 845v423M1272 89v375M1272 844v430M1273 89v369M1273 844v435M1274 89v371M1274 843v442M1275 89v369M1275 843v448M1276 89v367M1276 843v456M1277 89v364M1277 843v467M1278 89v358M1278 843v478M1279 89v352M1279 843v485M1280 89v349M1280 843v492M1281 90v342M1281 843v499M1282 90v347M1282 843v508M1283 90v344M1283 843v521M1284 89v345M1284 843v535M1285 89v344M1285 843v546M1286 89v342M1286 843v533M1287 89v341M1287 843v498M1288 89v340M1288 843v480M1289 89v339M1289 843v469M1290 89v338M1290 843v465M1291 89v333M1291 845v460M1292 90v335M1292 843v458M1293 90v333M1293 843v454M1294 90v332M1294 843v451M1295 89v329M1295 843v451M1296 89v332M1296 843v455M1297 89v324M1297 843v459M1298 89v327M1298 843v463M1299 89v330M1299 844v476M1300 89v329M1300 845v489M1301 89v328M1301 845v503M1302 89v320M1302 843v511M1303 89v324M1303 845v515M1304 89v325M1304 845v521M1305 90v323M1305 845v527M1306 90v319M1306 843v537M1307 89v323M1307 843v546M1308 89v327M1308 843v556M1309 89v327M1309 843v565M1310 89v318M1310 843v560M1311 89v323M1311 843v554M1312 89v322M1312 843v549M1313 89v315M1313 412v4M1313 843v544M1314 89v319M1314 843v543M1315 89v320M1315 843v541M1316 89v311M1316 843v530M1317 89v313M1317 843v511M1318 89v322M1318 843v488M1319 89v317M1319 843v463M1320 89v317M1320 843v457M1321 89v313M1321 843v427M1322 90v314M1322 413v1M1322 843v401M1323 90v324M1323 843v393M1324 90v323M1324 845v383M1325 90v324M1325 843v367M1326 89v326M1326 843v349M1327 89v326M1327 843v342M1328 90v325M1328 843v335M1329 90v326M1329 843v328M1330 90v322M1330 843v321M1331 90v326M1331 843v314M1332 90v327M1332 843v307M1333 90v328M1333 843v301M1334 90v329M1334 843v296M1335 90v325M1335 843v291M1336 89v329M1336 423v2M1336 843v285M1337 89v336M1337 843v280M1338 89v328M1338 843v275M1339 90v332M1339 843v266M1340 90v335M1340 843v257M1341 89v336M1341 843v253M1342 89v337M1342 843v249M1343 89v338M1343 843v245M1344 90v338M1344 843v241M1345 89v340M1345 843v239M1346 89v341M1346 843v239M1347 90v349M1347 843v238M1348 90v345M1348 843v236M1349 89v349M1349 843v235M1350 90v350M1350 843v216M1351 90v353M1351 843v235M1352 89v357M1352 843v234M1353 90v359M1353 843v229M1353 1079v5M1354 89v363M1354 843v232M1355 89v366M1355 843v232M1356 89v362M1356 843v226M1356 1078v6M1357 89v370M1357 843v241M1358 90v376M1358 844v230M1359 90v378M1359 844v230M1360 89v371M1360 466v5M1360 844v219M1360 1077v7M1361 89v377M1361 844v209M1361 1077v7M1362 89v379M1362 844v209M1363 89v380M1363 843v222M1364 89v380M1364 843v222M1365 89v391M1365 843v240M1366 90v391M1366 844v239M1367 90v392M1367 844v239M1368 89v386M1368 844v222M1369 89v387M1369 844v210M1370 90v387M1370 844v216M1371 89v389M1371 843v228M1372 89v391M1372 843v228M1373 89v392M1373 843v209M1374 89v393M1374 843v233M1375 89v400M1375 843v239M1376 92v399M1376 843v239M1377 90v404M1377 843v237M1378 90v406M1378 843v239M1379 90v408M1379 843v211M1380 91v394M1380 843v230M1381 92v400M1381 844v229M1382 99v395M1382 843v230M1383 100v395M1383 843v230M1384 89v407M1384 844v230M1385 89v413M1385 843v231M1386 92v411M1386 843v231M1387 99v399M1387 502v3M1387 843v224M1388 93v413M1388 843v224M1389 94v402M1389 503v4M1389 845v222M1390 96v413M1390 845v231M1391 114v399M1391 845v235M1392 116v391M1392 845v216M1393 116v391M1393 845v236M1394 100v409M1394 843v218M1395 102v408M1395 843v238M1396 101v411M1396 843v233M1397 101v416M1397 843v233M1398 98v420M1398 843v236M1399 103v414M1399 843v241M1400 104v422M1400 843v241M1401 105v422M1401 843v233M1401 1083v1M1402 104v425M1402 844v241M1403 105v417M1403 844v236M1404 105v419M1404 845v237M1405 105v421M1405 846v237M1406 106v411M1406 844v239M1407 106v421M1407 844v242M1408 107v427M1408 846v241M1409 108v427M1409 843v219M1410 117v426M1410 845v231M1411 118v426M1411 843v241M1412 121v424M1412 843v241M1413 121v412M1413 843v243M1414 126v408M1414 843v243M1415 127v418M1415 843v230M1416 114v429M1416 845v241M1417 115v430M1417 844v230M1418 116v430M1418 843v248M1419 117v436M1419 844v247M1420 118v436M1420 843v234M1421 118v425M1421 843v246M1422 119v425M1422 847v242M1423 118v442M1423 845v239M1424 131v434M1424 843v241M1425 118v449M1425 846v239M1426 118v441M1426 844v251M1427 119v437M1427 846v242M1428 122v436M1428 845v225M1429 122v441M1429 848v230M1430 123v442M1430 843v250M1431 122v444M1431 847v246M1432 123v445M1432 843v250M1433 125v445M1433 844v250M1434 134v438M1434 844v257M1435 119v455M1435 847v254M1436 120v455M1436 846v244M1436 1099v3M1437 138v428M1437 578v7M1437 843v250M1438 138v450M1438 843v251M1439 130v461M1439 843v259M1440 130v451M1440 843v237M1441 133v451M1441 843v257M1442 128v474M1442 849v251M1443 131v474M1443 843v245M1443 1103v3M1444 133v469M1444 844v262M1445 134v471M1445 843v259M1446 137v469M1446 843v260M1447 138v472M1447 848v241M1447 1106v4M1448 137v477M1448 847v263M1449 141v482M1449 844v260M1450 138v479M1450 849v256M1451 153v468M1451 843v246M1452 154v475M1452 845v254M1453 141v492M1453 843v264M1454 142v498M1454 843v242M1454 1110v2M1455 141v504M1455 846v266M1456 140v509M1456 849v240M1456 1111v2M1457 141v507M1457 845v264M1458 141v505M1458 845v260M1459 142v493M1459 852v256M1460 143v497M1460 843v266M1461 147v491M1461 851v262M1462 146v485M1462 633v3M1462 844v269M1463 146v484M1463 843v271M1464 146v469M1464 627v4M1464 844v268M1465 146v481M1465 844v269M1466 146v478M1466 852v267M1467 145v472M1467 853v267M1468 145v471M1468 843v265M1469 141v474M1469 851v272M1470 147v467M1470 843v276M1471 148v475M1471 845v275M1472 145v476M1472 843v270M1473 147v473M1473 843v280M1474 147v460M1474 845v278M1475 153v453M1475 845v279M1476 154v458M1476 845v266M1477 152v452M1477 853v264M1478 153v444M1478 843v280M1479 167v439M1479 843v281M1480 168v420M1480 601v3M1480 850v279M1481 158v445M1481 843v268M1481 1128v1M1482 159v443M1482 843v287M1483 165v435M1483 843v283M1484 165v427M1484 845v268M1485 165v432M1485 849v279M1486 159v430M1486 843v273M1487 167v420M1487 845v283M1488 169v417M1488 843v269M1489 170v419M1489 843v280M1490 166v421M1490 852v273M1491 166v420M1491 852v279M1492 166v412M1492 847v275M1492 1136v2M1493 165v411M1493 843v296M1494 164v411M1494 845v297M1495 163v404M1495 843v300M1496 163v402M1496 847v297M1497 164v407M1497 844v293M1498 162v411M1498 844v278M1499 166v392M1499 570v1M1499 855v269M1500 167v385M1500 843v296M1501 167v393M1501 854v285M1502 168v396M1502 848v292M1503 165v398M1503 843v280M1504 166v384M1504 856v278M1505 166v393M1505 846v303M1506 172v388M1506 843v289M1507 173v386M1507 845v294M1508 173v385M1508 844v300M1509 183v356M1509 855v290M1510 185v367M1510 851v288M1511 184v366M1511 859v281M1512 170v379M1512 846v296M1513 170v378M1513 850v292M1514 171v376M1514 846v297M1515 172v373M1515 843v286M1516 174v370M1516 853v296M1517 175v368M1517 843v300M1518 178v364M1518 843v308M1519 179v362M1519 843v289M1520 174v365M1520 847v300M1521 175v369M1521 843v305M1522 172v369M1522 861v293M1523 181v360M1523 849v296M1524 181v360M1524 844v311M1525 182v354M1525 848v302M1526 188v347M1526 858v292M1527 185v348M1527 850v306M1528 185v348M1528 844v312M1529 186v359M1529 845v318M1530 194v350M1530 853v286M1530 1162v2M1531 194v330M1531 532v11M1531 858v308M1532 194v336M1532 848v319M1533 189v342M1533 860v288M1534 202v341M1534 852v291M1535 202v340M1535 846v317M1536 188v341M1536 858v306M1537 187v341M1537 846v319M1538 199v328M1538 861v305M1539 199v328M1539 847v320M1540 186v340M1540 847v329M1541 183v351M1541 848v329M1542 184v350M1542 864v304M1543 186v334M1543 528v6M1543 847v324M1544 188v317M1544 525v8M1544 848v324M1545 189v336M1545 848v325M1546 189v335M1546 856v316M1547 190v333M1547 849v320M1548 190v343M1548 848v318M1549 189v340M1549 855v312M1550 201v322M1550 849v310M1551 202v326M1551 849v303M1552 194v330M1552 851v73M1553 195v326M1554 196v324M1554 853v92M1555 195v323M1555 852v90M1556 188v329M1556 861v78M1557 188v330M1558 188v317M1559 193v312M1560 200v315M1560 858v63M1561 212v303M1561 853v58M1562 212v297M1562 864v70M1563 198v322M1563 860v50M1564 198v321M1564 859v51M1565 197v309M1565 515v3M1565 859v79M1566 192v322M1566 864v65M1567 192v321M1567 855v76M1568 193v320M1569 201v310M1569 864v60M1570 203v307M1571 208v296M1571 864v88M1572 205v294M1573 213v287M1574 213v286M1575 213v306M1575 861v92M1576 205v288M1576 508v11M1576 867v82M1577 203v300M1577 512v7M1578 204v303M1578 865v79M1579 208v298M1579 863v88M1580 206v300M1580 869v80M1581 206v299M1581 863v86M1582 206v297M1582 870v72M1583 205v291M1583 869v64M1584 205v291M1584 871v66M1585 206v295M1585 874v54M1586 207v294M1586 875v70M1587 207v310M1588 209v291M1588 865v64M1589 210v290M1589 870v76M1590 214v279M1590 501v14M1591 205v267M1591 499v15M1591 873v78M1592 204v309M1593 209v288M1593 872v59M1594 209v288M1594 869v77M1595 208v288M1596 213v286M1596 880v55M1597 214v291M1597 881v50M1598 227v264M1598 880v35M1599 228v262M1600 210v268M1600 877v2M1600 899v4M1601 210v278M1601 870v13M1602 210v295M1603 214v274M1603 872v17M1604 214v274M1605 215v287M1605 884v12M1606 215v273M1607 210v278M1608 214v288M1609 213v288M1609 879v11M1610 213v288M1610 879v2M1611 222v264M1611 876v9M1612 216v270M1612 874v11M1613 217v269M1613 883v3M1614 219v287M1614 885v2M1615 220v246M1615 485v21M1615 885v2M1616 221v246M1616 885v2M1617 219v257M1617 885v2M1618 219v256M1618 885v2M1619 219v265M1619 885v2M1620 218v266M1620 885v8M1621 218v257M1621 886v2M1622 220v263M1622 886v2M1623 220v272M1623 886v2M1624 236v256M1624 886v2M1625 223v268M1625 886v2M1626 224v250M1626 886v2M1627 230v248M1627 886v3M1628 230v248M1628 887v2M1629 230v247M1629 887v2M1630 232v235M1630 888v2M1631 235v253M1631 888v2M1632 236v253M1632 888v3M1633 225v265M1633 889v3M1634 226v257M1634 890v4M1635 226v254M1635 892v4M1636 233v247M1636 895v3M1637 234v246M1637 896v4M1638 225v254M1638 899v4M1639 226v253M1639 902v4M1640 226v252M1640 904v3M1641 228v241M1641 906v2M1642 230v250M1642 906v2M1643 231v249M1643 907v2M1644 233v261M1644 907v2M1645 233v261M1645 908v2M1646 230v248M1646 907v2M1647 229v248M1647 906v2M1648 226v252M1648 904v3M1649 239v240M1649 903v3M1650 228v252M1650 902v3M1651 232v249M1651 901v2M1652 232v249M1652 900v2M1653 233v253M1653 898v3M1654 232v248M1654 897v3M1655 232v248M1655 896v3M1656 236v246M1656 895v2M1657 234v249M1657 894v2M1658 235v264M1658 893v2M1659 236v264M1659 894v3M1660 234v257M1660 896v3M1661 235v247M1661 898v3M1662 235v247M1662 900v3M1663 236v241M1663 901v4M1664 238v239M1664 903v4M1665 238v249M1665 905v2M1666 233v255M1667 234v254M1668 235v264M1669 237v262M1670 243v244M1671 243v244M1672 243v255M1673 256v220M1673 493v6M1674 240v248M1675 240v255M1676 255v241M1677 255v242M1678 256v256M1679 235v277M1680 236v241M1681 242v244M1682 242v239M1683 243v238M1684 258v238M1685 259v238M1686 254v257M1687 255v257M1688 248v265M1689 248v251M1690 248v251M1691 262v238M1692 261v239M1693 261v232M1694 249v258M1695 250v269M1696 245v265M1697 247v274M1698 248v273M1699 258v245M1700 249v266M1701 249v267M1702 248v256M1703 250v256M1704 250v243M1705 251v257M1706 260v248M1707 261v248M1708 253v255M1709 253v255M1710 254v262M1711 255v270M1712 256v270M1713 253v274M1714 255v256M1715 259v251M1716 255v263M1717 254v264M1718 252v260M1719 263v253M1720 255v257M1721 253v260M1722 253v256M1723 254v256M1724 253v258M1725 254v277M1726 263v268M1727 257v274M1728 257v260M1729 254v245M1730 254v266M1731 265v257M1732 266v256M1733 267v255M1734 262v260M1735 265v248M1735 521v1M1736 265v249M1737 261v253M1738 262v259M1739 263v259M1740 265v257M1741 279v243M1742 264v252M1743 264v249M1744 259v265M1745 264v260M1746 263v248M1747 262v271M1748 265v269M1749 266v260M1750 267v260M1751 268v260M1752 269v259M1753 278v243M1754 273v256M1755 267v276M1756 267v277M1757 272v269M1758 287v245M1759 287v245M1760 273v260M1761 278v265M1762 278v264M1763 272v274M1764 271v275M1765 271v275M1766 273v250M1767 264v276M1768 272v268M1769 283v262M1770 284v261M1771 268v270M1772 268v270M1773 267v272M1774 273v267M1775 287v265M1776 288v265M1777 290v252M1778 269v273M1779 270v272M1780 291v250M1781 291v249M1782 279v264M1783 278v264M1784 279v263M1785 280v263M1786 281v263M1787 280v265M1788 279v267M1789 283v263M1790 282v264M1791 284v262M1792 283v264M1793 284v246M1793 551v8M1794 277v283M1795 273v288M1796 274v287M1797 275v281M1798 282v275M1799 281v278M1800 281v279M1801 289v273M1802 278v280M1803 279v276M1804 281v264M1805 276v283M1806 276v283M1807 285v280M1808 285v274M1809 285v275M1810 277v291M1811 278v291M1812 286v285M1813 286v278M1814 287v278M1815 287v277M1816 286v278M1817 285v280M1818 284v282M1819 283v285M1820 284v276M1821 295v274M1822 296v282M1823 298v259M1823 571v8M1824 289v277M1825 288v282M1826 288v283M1827 288v291M1828 289v291M1829 289v300M1830 283v283M1831 283v285M1832 302v266M1833 302v292M1834 288v289M1835 287v290M1836 287v265M1837 288v310M1838 288v303M1839 290v302M1840 287v294M1841 292v290M1842 300v283M1843 300v283M1844 299v285M1845 290v277M1845 587v15M1846 288v315M1847 294v279M1847 589v15M1848 295v310M1849 293v309M1850 295v287M1850 592v10M1851 296v291M1852 306v272M1852 589v6M1853 309v285M1854 309v264M1854 593v2M1855 309v272M1856 299v290M1857 299v291M1858 298v293M1859 305v291M1860 304v289M1861 297v295M1862 296v296M1863 296v296M1864 302v291M1865 303v291M1866 294v303M1867 296v302M1868 297v294M1869 300v292M1870 300v299M1871 309v290M1872 309v291M1873 298v303M1874 298v304M1875 298v305M1876 315v288M1877 314v289M1878 314v274M1879 314v279M1880 304v299M1881 303v300M1882 302v305M1883 302v307M1884 303v308M1885 299v309M1886 299v312M1887 311v287M1888 311v300M1889 305v306M1890 306v307M1891 302v311M1892 303v312M1893 305v311M1894 313v322M1895 314v321M1896 315v321M1897 311v305M1898 310v325M1899 309v327M1900 307v312M1901 304v318M1902 304v321M1903 305v322M1904 302v327M1905 302v337M1906 303v330M1907 302v333M1908 304v333M1909 304v345M1910 315v337M1911 307v325M1912 310v325M1913 310v360M1914 307v352M1915 309v353M1916 308v353M1917 321v327M1918 321v316M1919 313v322M1920 315v322M1921 313v330M1922 311v329M1923 312v317M1923 639v2M1924 319v317M1925 318v311M1926 317v316M1927 309v323M1928 317v313M1929 304v325M1930 304v323M1931 321v309M1932 321v308M1933 321v301M1934 319v301M1935 327v295M1936 314v307M1937 315v302M1938 314v299M1939 315v297M1940 318v300M1941 318v289M1941 614v3M1942 318v298M1943 325v293M1944 324v293M1945 316v300M1946 310v305M1947 311v296M1948 312v294M1949 321v284M1950 322v281M1951 317v285M1952 317v284M1953 331v274M1954 331v268M1955 315v284M1956 317v282M1957 318v285M1958 322v276M1959 329v261M1959 596v1M1960 330v265M1961 319v275M1962 321v273M1963 322v271M1964 321v263M1965 323v274M1966 327v260M1967 328v263M1968 328v263M1969 327v263M1970 320v268M1971 319v269M1972 318v269M1973 320v267M1974 321v259M1975 322v264M1976 317v262M1977 318v265M1978 320v262M1979 326v251M1980 325v258M1981 340v243M1982 341v241M1983 341v241M1984 327v252M1985 341v240M1986 341v239M1987 328v252M1988 327v252M1989 324v251M1990 327v248M1991 327v250M1992 342v234M1993 344v232M1994 344v236M1995 328v251M1996 328v251M1997 326v247M1998 325v248M1999 323v250M2000 322v250M2001 323v248M2002 334v229M2002 571v2M2003 335v235M2004 336v233M2005 328v241M2006 333v236M2007 333v235M2008 331v229M2009 332v236M2010 332v232M2011 334v234M2012 335v232M2013 334v233M2014 333v229M2015 329v236M2016 328v237M2017 324v241M2018 324v241M2019 330v235M2020 330v226M2020 565v4M2021 331v238M2022 328v242M2023 328v242M2024 327v236M2025 327v236M2026 326v237M2027 331v232M2028 332v231M2029 332v231M2030 333v230M2031 334v228M2032 336v226M2033 336v225M2034 336v225M2035 336v225"/>
</g>
<path d="M247 88h1789v1h-1789zM247 673h1789v1h-1789zM247 88h1v586h-1zM2034 88h2v586h-2zM248 147h13v1h-13zM248 205h25v1h-25zM248 206h25v1h-25zM248 264h13v1h-13zM248 322h25v1h-25zM248 323h25v1h-25zM248 380h13v1h-13zM248 381h13v1h-13zM248 439h25v1h-25zM248 498h13v1h-13zM248 556h25v1h-25zM248 614h13v1h-13zM248 615h13v1h-13zM359 661h1v13h-1zM470 649h1v25h-1zM471 649h1v25h-1zM582 661h1v13h-1zM694 649h1v25h-1zM805 661h1v13h-1zM806 661h1v13h-1zM917 649h1v25h-1zM1029 661h1v13h-1zM1141 649h1v25h-1zM1252 661h1v13h-1zM1253 661h1v13h-1zM1364 649h1v25h-1zM1476 661h1v13h-1zM1588 649h1v25h-1zM1699 661h1v13h-1zM1811 649h1v25h-1zM1923 661h1v13h-1zM247 842h1789v1h-1789zM247 1427h1789v2h-1789zM247 842h1v587h-1zM2034 842h2v587h-2zM248 901h13v1h-13zM248 959h25v1h-25zM248 960h25v1h-25zM248 1018h13v1h-13zM248 1076h25v1h-25zM248 1077h25v1h-25zM248 1134h13v1h-13zM248 1135h13v1h-13zM248 1193h25v1h-25zM248 1252h13v1h-13zM248 1310h25v1h-25zM248 1368h13v1h-13zM248 1369h13v1h-13zM396 1415h1v13h-1zM545 1403h1v25h-1zM694 1415h1v13h-1zM843 1403h1v25h-1zM992 1415h1v13h-1zM1141 1403h1v25h-1zM1290 1415h1v13h-1zM1439 1403h1v25h-1zM1588 1415h1v13h-1zM1736 1403h1v25h-1zM1737 1403h1v25h-1zM1885 1415h1v13h-1zM1886 1415h1v13h-1z" fill="#000"/>
<text transform="translate(221.0 687.10) scale(1 1.06)" font-size="48.0" text-anchor="end">0.0</text>
<text transform="translate(221.0 570.10) scale(1 1.06)" font-size="48.0" text-anchor="end">0.2</text>
<text transform="translate(221.0 453.10) scale(1 1.06)" font-size="48.0" text-anchor="end">0.4</text>
<text transform="translate(221.0 336.10) scale(1 1.06)" font-size="48.0" text-anchor="end">0.6</text>
<text transform="translate(221.0 219.10) scale(1 1.06)" font-size="48.0" text-anchor="end">0.8</text>
<text transform="translate(221.0 102.10) scale(1 1.06)" font-size="48.0" text-anchor="end">1.0</text>
<text transform="translate(221.0 1441.10) scale(1 1.06)" font-size="48.0" text-anchor="end">0.0</text>
<text transform="translate(221.0 1324.10) scale(1 1.06)" font-size="48.0" text-anchor="end">0.2</text>
<text transform="translate(221.0 1207.10) scale(1 1.06)" font-size="48.0" text-anchor="end">0.4</text>
<text transform="translate(221.0 1090.10) scale(1 1.06)" font-size="48.0" text-anchor="end">0.6</text>
<text transform="translate(221.0 973.10) scale(1 1.06)" font-size="48.0" text-anchor="end">0.8</text>
<text transform="translate(221.0 856.10) scale(1 1.06)" font-size="48.0" text-anchor="end">1.0</text>
<text transform="translate(247.2 739.00) scale(1 1.06)" font-size="48.0" text-anchor="middle">-0.12</text>
<text transform="translate(470.6 739.00) scale(1 1.06)" font-size="48.0" text-anchor="middle">-0.09</text>
<text transform="translate(694.1 739.00) scale(1 1.06)" font-size="48.0" text-anchor="middle">-0.06</text>
<text transform="translate(917.5 739.00) scale(1 1.06)" font-size="48.0" text-anchor="middle">-0.03</text>
<text transform="translate(1141.0 739.00) scale(1 1.06)" font-size="48.0" text-anchor="middle">0.00</text>
<text transform="translate(1364.4 739.00) scale(1 1.06)" font-size="48.0" text-anchor="middle">0.03</text>
<text transform="translate(1587.8 739.00) scale(1 1.06)" font-size="48.0" text-anchor="middle">0.06</text>
<text transform="translate(1811.3 739.00) scale(1 1.06)" font-size="48.0" text-anchor="middle">0.09</text>
<text transform="translate(2034.7 739.00) scale(1 1.06)" font-size="48.0" text-anchor="middle">0.12</text>
<text transform="translate(247.2 1492.50) scale(1 1.06)" font-size="48.0" text-anchor="middle">-0.06</text>
<text transform="translate(545.1 1492.50) scale(1 1.06)" font-size="48.0" text-anchor="middle">-0.04</text>
<text transform="translate(843.0 1492.50) scale(1 1.06)" font-size="48.0" text-anchor="middle">-0.02</text>
<text transform="translate(1141.0 1492.50) scale(1 1.06)" font-size="48.0" text-anchor="middle">0.00</text>
<text transform="translate(1438.9 1492.50) scale(1 1.06)" font-size="48.0" text-anchor="middle">0.02</text>
<text transform="translate(1736.8 1492.50) scale(1 1.06)" font-size="48.0" text-anchor="middle">0.04</text>
<text transform="translate(2034.7 1492.50) scale(1 1.06)" font-size="48.0" text-anchor="middle">0.06</text>
<text transform="translate(110.0 592.0) rotate(-90)" font-size="60.0" text-anchor="start">RDG(r) [a.u.]</text>
<text transform="translate(110.0 1346.0) rotate(-90)" font-size="60.0" text-anchor="start">RDG(r) [a.u.]</text>
<text y="1589.7" font-size="60"><tspan x="919.5">sign(</tspan><tspan x="1050" font-family='"Liberation Serif", "DejaVu Serif", serif' font-size="62">λ</tspan><tspan x="1081.5" dy="22.7" font-size="33">2</tspan><tspan x="1103.5" dy="-22.7">)</tspan><tspan x="1121.5" font-family='"Liberation Serif", "DejaVu Serif", serif' font-size="56">ρ</tspan><tspan x="1153">(r) [a.u.]</tspan></text>
<text x="276.3" y="818.0" font-size="48.5" text-anchor="start">attractive</text>
<text x="1067.0" y="818.0" font-size="48.0" text-anchor="start">weak</text>
<text x="1786.3" y="818.0" font-size="48.5" text-anchor="start">repulsive</text>
<path d="M1740 1255.7H1838.5" stroke="#0000ff" stroke-width="2" fill="none"/>
<path d="M1740 1308.9H1838.5" stroke="#ff0000" stroke-width="2" fill="none"/>
<path d="M1740 1362.6H1838.5" stroke="#00ff00" stroke-width="2" fill="none"/>
<text x="1849.5" y="1269.7" font-size="44.5" text-anchor="start">LT</text>
<text x="1849.5" y="1324.4" font-size="44.5" text-anchor="start">RT ABC</text>
<text x="1849.5" y="1376.6" font-size="44.3" text-anchor="start">RT DEF</text>
<text transform="translate(872.0 425.5) rotate(-90)" font-size="44.0"><tspan x="0">N(1)-CH</tspan><tspan x="158.65" dy="4.0" font-size="50" letter-spacing="-6.15">···</tspan><tspan x="192.68" dy="-4.0">O(6)</tspan></text>
<text transform="translate(1005.0 402.5) rotate(-90)" font-size="44.0"><tspan x="0">N(1)-CH</tspan><tspan x="158.65" dy="4.0" font-size="50" letter-spacing="-6.15">···</tspan><tspan x="192.68" dy="-4.0">O(2)</tspan></text>
<text transform="translate(1083.0 384.5) rotate(-90)" font-size="44.0"><tspan x="0">N(7)-CH</tspan><tspan x="158.65" dy="4.0" font-size="50" letter-spacing="-6.15">···</tspan><tspan x="192.68" dy="-4.0">O(2)</tspan></text>
<text transform="translate(1265.0 418.0) rotate(-90)" font-size="43.7" text-anchor="start">ring closure</text>
<text transform="translate(1328.3 467.5) rotate(-90)" font-size="43.7" text-anchor="start">ring closure</text>
<text transform="translate(1426.3 533.5) rotate(-90)" font-size="43.7" text-anchor="start">steric</text>
<text transform="translate(1481.3 534.5) rotate(-90)" font-size="43.7" text-anchor="start">6-member ring</text>
<text transform="translate(1879.4 574.5) rotate(-90)" font-size="43.7" text-anchor="start">steric</text>
<text transform="translate(1932.9 574.5) rotate(-90)" font-size="43.7" text-anchor="start">5-member ring</text>
<text transform="translate(594.0 1224.5) rotate(-90)" font-size="44.0"><tspan x="0">NH</tspan><tspan x="58.44" dy="4.0" font-size="50" letter-spacing="-6.15">···</tspan><tspan x="92.48" dy="-4.0">O (inter)</tspan></text>
<text transform="translate(671.6 1223.5) rotate(-90)" font-size="44.0"><tspan x="0">CH</tspan><tspan x="58.44" dy="4.0" font-size="50" letter-spacing="-6.15">···</tspan><tspan x="92.48" dy="-4.0">O (inter)</tspan></text>
<text transform="translate(914.0 1211.5) rotate(-90)" font-size="44.0"><tspan x="0">CH</tspan><tspan x="58.44" dy="4.0" font-size="50" letter-spacing="-6.15">···</tspan><tspan x="92.48" dy="-4.0">O (intra)</tspan></text>
<text transform="translate(1022.3 1209.5) rotate(-90)" font-size="43.7" text-anchor="start">van der Waals</text>
<text transform="translate(1252.7 1203.5) rotate(-90)" font-size="43.7" text-anchor="start">van der Waals</text>
<text transform="translate(1416.5 1061.5) rotate(-90)" font-size="43.7" text-anchor="start">steric</text>
<text transform="translate(1112.6 1136.8) rotate(-90)" font-size="43.7"><tspan x="-0.56" font-family='"Liberation Serif", "DejaVu Serif", serif' font-size="40">π</tspan><tspan x="16.50" dy="4.0" font-size="50" letter-spacing="-6.60">···</tspan><tspan x="51" dy="-4.0" font-family='"Liberation Serif", "DejaVu Serif", serif' font-size="40">π</tspan><tspan> </tspan><tspan x="83.7">stacking</tspan></text>
<text transform="translate(1173.6 1151.4) rotate(-90)" font-size="43.7"><tspan x="-0.56" font-family='"Liberation Serif", "DejaVu Serif", serif' font-size="40">π</tspan><tspan x="16.50" dy="4.0" font-size="50" letter-spacing="-6.60">···</tspan><tspan x="51" dy="-4.0" font-family='"Liberation Serif", "DejaVu Serif", serif' font-size="40">π</tspan><tspan> </tspan><tspan x="83.7">stacking</tspan></text>
</svg></body></html>
